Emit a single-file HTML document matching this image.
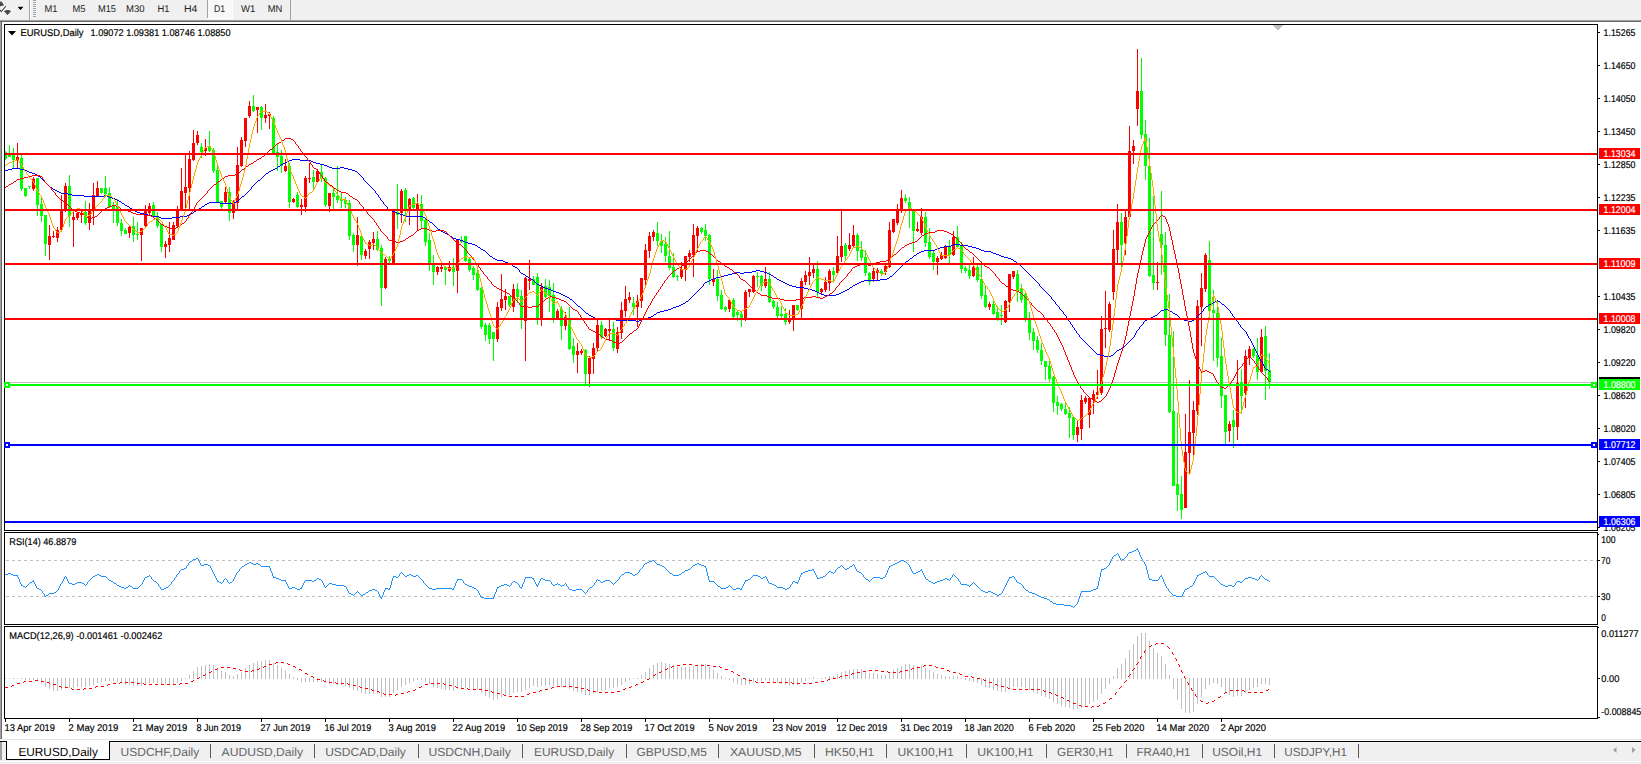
<!DOCTYPE html>
<html><head><meta charset="utf-8"><title>EURUSD,Daily</title>
<style>html,body{margin:0;padding:0;background:#fff;overflow:hidden}svg{display:block}text{font-family:"Liberation Sans",sans-serif;white-space:pre}</style>
</head><body>
<svg width="1641" height="764" viewBox="0 0 1641 764" shape-rendering="crispEdges" text-rendering="geometricPrecision">
<rect x="0" y="0" width="1641" height="764" fill="#fff"/>
<rect x="0" y="0" width="1641" height="20" fill="#f0f0f0"/>
<rect x="0" y="20" width="1641" height="1" fill="#a0a0a0"/>
<rect x="0" y="21" width="1641" height="1" fill="#696969"/>
<rect x="0" y="22" width="1" height="717" fill="#a0a0a0"/>
<rect x="1" y="22" width="1" height="717" fill="#696969"/>
<g shape-rendering="geometricPrecision"><path d="M0,1.6 L1.6,1.6 L4.2,5.2 L0,6.6 Z M3.8,10.9 L6.4,10 L8.6,10 L11.2,11 L7.5,15.2 Z" fill="#4a4a4a" stroke="#fff" stroke-width="1.6" paint-order="stroke"/><path d="M5.8,6.2 L1.3,11.6 L0,9.9" fill="none" stroke="#fff" stroke-width="2.6"/><path d="M5.8,6.2 L1.3,11.6 L0,9.9" fill="none" stroke="#4a4a4a" stroke-width="1.2"/><path d="M17.5,6.8 L23.5,6.8 L20.5,10.3 Z" fill="#000" stroke="#fff" stroke-width="1.4" paint-order="stroke"/></g>
<rect x="29" y="0" width="1" height="20" fill="#a0a0a0"/>
<rect x="30" y="0" width="1" height="20" fill="#fff"/>
<rect x="33" y="0" width="3" height="1" fill="#a0a0a0"/>
<rect x="33" y="1" width="3" height="1" fill="#f8f8f8"/>
<rect x="33" y="2" width="3" height="1" fill="#a0a0a0"/>
<rect x="33" y="3" width="3" height="1" fill="#f8f8f8"/>
<rect x="33" y="4" width="3" height="1" fill="#a0a0a0"/>
<rect x="33" y="5" width="3" height="1" fill="#f8f8f8"/>
<rect x="33" y="6" width="3" height="1" fill="#a0a0a0"/>
<rect x="33" y="7" width="3" height="1" fill="#f8f8f8"/>
<rect x="33" y="8" width="3" height="1" fill="#a0a0a0"/>
<rect x="33" y="9" width="3" height="1" fill="#f8f8f8"/>
<rect x="33" y="10" width="3" height="1" fill="#a0a0a0"/>
<rect x="33" y="11" width="3" height="1" fill="#f8f8f8"/>
<rect x="33" y="12" width="3" height="1" fill="#a0a0a0"/>
<rect x="33" y="13" width="3" height="1" fill="#f8f8f8"/>
<rect x="33" y="14" width="3" height="1" fill="#a0a0a0"/>
<rect x="33" y="15" width="3" height="1" fill="#f8f8f8"/>
<rect x="33" y="16" width="3" height="1" fill="#a0a0a0"/>
<rect x="33" y="17" width="3" height="1" fill="#f8f8f8"/>
<rect x="207" y="0" width="1" height="18" fill="#a0a0a0"/>
<rect x="290" y="0" width="1" height="20" fill="#a0a0a0"/>
<rect x="208" y="0" width="24" height="18" fill="#f8f8f8"/>
<rect x="207" y="18" width="26" height="1" fill="#fff"/>
<rect x="232" y="0" width="1" height="19" fill="#fff"/>
<text x="44.5" y="12" font-size="9.8" fill="#222" textLength="13" lengthAdjust="spacingAndGlyphs">M1</text>
<text x="72.5" y="12" font-size="9.8" fill="#222" textLength="13" lengthAdjust="spacingAndGlyphs">M5</text>
<text x="98" y="12" font-size="9.8" fill="#222" textLength="18" lengthAdjust="spacingAndGlyphs">M15</text>
<text x="126" y="12" font-size="9.8" fill="#222" textLength="18.5" lengthAdjust="spacingAndGlyphs">M30</text>
<text x="157.5" y="12" font-size="9.8" fill="#222" textLength="12" lengthAdjust="spacingAndGlyphs">H1</text>
<text x="184" y="12" font-size="9.8" fill="#222" textLength="13.5" lengthAdjust="spacingAndGlyphs">H4</text>
<text x="213.9" y="12" font-size="9.8" fill="#222" textLength="11.2" lengthAdjust="spacingAndGlyphs">D1</text>
<text x="240.9" y="12" font-size="9.8" fill="#222" textLength="14.3" lengthAdjust="spacingAndGlyphs">W1</text>
<text x="267.8" y="12" font-size="9.8" fill="#222" textLength="14.6" lengthAdjust="spacingAndGlyphs">MN</text>
<rect x="5" y="382" width="1592" height="1" fill="#c0c0c0"/>
<polygon points="1272,25 1283,25 1277.5,30.5" fill="#c0c0c0"/>
<rect x="5" y="151" width="1" height="9" fill="#00ff00"/>
<rect x="5" y="152" width="2" height="7" fill="#00ff00"/>
<rect x="9" y="145" width="1" height="12" fill="#00ff00"/>
<rect x="8" y="154" width="3" height="3" fill="#00ff00"/>
<rect x="13" y="148" width="1" height="20" fill="#00ff00"/>
<rect x="12" y="154" width="3" height="6" fill="#00ff00"/>
<rect x="17" y="143" width="1" height="26" fill="#ff0000"/>
<rect x="16" y="157" width="3" height="4" fill="#ff0000"/>
<rect x="21" y="155" width="1" height="36" fill="#00ff00"/>
<rect x="20" y="158" width="3" height="31" fill="#00ff00"/>
<rect x="25" y="188" width="1" height="9" fill="#00ff00"/>
<rect x="24" y="188" width="3" height="8" fill="#00ff00"/>
<rect x="29" y="186" width="1" height="3" fill="#00ff00"/>
<rect x="28" y="186" width="3" height="1" fill="#00ff00"/>
<rect x="33" y="177" width="1" height="14" fill="#ff0000"/>
<rect x="32" y="179" width="3" height="10" fill="#ff0000"/>
<rect x="37" y="178" width="1" height="38" fill="#00ff00"/>
<rect x="36" y="178" width="3" height="27" fill="#00ff00"/>
<rect x="41" y="198" width="1" height="24" fill="#00ff00"/>
<rect x="40" y="204" width="3" height="12" fill="#00ff00"/>
<rect x="45" y="215" width="1" height="41" fill="#00ff00"/>
<rect x="44" y="215" width="3" height="29" fill="#00ff00"/>
<rect x="49" y="225" width="1" height="35" fill="#ff0000"/>
<rect x="48" y="236" width="3" height="9" fill="#ff0000"/>
<rect x="53" y="231" width="1" height="7" fill="#ff0000"/>
<rect x="52" y="236" width="3" height="1" fill="#ff0000"/>
<rect x="57" y="227" width="1" height="15" fill="#ff0000"/>
<rect x="56" y="230" width="3" height="8" fill="#ff0000"/>
<rect x="61" y="195" width="1" height="36" fill="#ff0000"/>
<rect x="60" y="210" width="3" height="20" fill="#ff0000"/>
<rect x="65" y="183" width="1" height="29" fill="#ff0000"/>
<rect x="64" y="186" width="3" height="25" fill="#ff0000"/>
<rect x="69" y="175" width="1" height="52" fill="#00ff00"/>
<rect x="68" y="186" width="3" height="30" fill="#00ff00"/>
<rect x="73" y="211" width="1" height="36" fill="#ff0000"/>
<rect x="72" y="217" width="3" height="3" fill="#ff0000"/>
<rect x="77" y="212" width="1" height="8" fill="#ff0000"/>
<rect x="76" y="213" width="3" height="5" fill="#ff0000"/>
<rect x="81" y="211" width="1" height="12" fill="#ff0000"/>
<rect x="80" y="213" width="3" height="2" fill="#ff0000"/>
<rect x="85" y="201" width="1" height="24" fill="#00ff00"/>
<rect x="84" y="212" width="3" height="11" fill="#00ff00"/>
<rect x="89" y="203" width="1" height="27" fill="#ff0000"/>
<rect x="88" y="209" width="3" height="14" fill="#ff0000"/>
<rect x="93" y="183" width="1" height="42" fill="#ff0000"/>
<rect x="92" y="195" width="3" height="15" fill="#ff0000"/>
<rect x="97" y="181" width="1" height="16" fill="#ff0000"/>
<rect x="96" y="188" width="3" height="8" fill="#ff0000"/>
<rect x="101" y="188" width="1" height="6" fill="#00ff00"/>
<rect x="100" y="188" width="3" height="5" fill="#00ff00"/>
<rect x="105" y="176" width="1" height="21" fill="#00ff00"/>
<rect x="104" y="188" width="3" height="6" fill="#00ff00"/>
<rect x="109" y="187" width="1" height="21" fill="#00ff00"/>
<rect x="108" y="193" width="3" height="14" fill="#00ff00"/>
<rect x="113" y="202" width="1" height="21" fill="#00ff00"/>
<rect x="112" y="206" width="3" height="5" fill="#00ff00"/>
<rect x="117" y="199" width="1" height="27" fill="#00ff00"/>
<rect x="116" y="206" width="3" height="17" fill="#00ff00"/>
<rect x="121" y="219" width="1" height="17" fill="#00ff00"/>
<rect x="120" y="223" width="3" height="8" fill="#00ff00"/>
<rect x="125" y="228" width="1" height="6" fill="#00ff00"/>
<rect x="124" y="230" width="3" height="4" fill="#00ff00"/>
<rect x="129" y="225" width="1" height="13" fill="#ff0000"/>
<rect x="128" y="227" width="3" height="6" fill="#ff0000"/>
<rect x="133" y="217" width="1" height="25" fill="#00ff00"/>
<rect x="132" y="226" width="3" height="9" fill="#00ff00"/>
<rect x="137" y="222" width="1" height="18" fill="#00ff00"/>
<rect x="136" y="234" width="3" height="1" fill="#00ff00"/>
<rect x="141" y="228" width="1" height="33" fill="#ff0000"/>
<rect x="140" y="228" width="3" height="7" fill="#ff0000"/>
<rect x="145" y="205" width="1" height="22" fill="#ff0000"/>
<rect x="144" y="211" width="3" height="15" fill="#ff0000"/>
<rect x="149" y="203" width="1" height="12" fill="#ff0000"/>
<rect x="148" y="206" width="3" height="7" fill="#ff0000"/>
<rect x="153" y="202" width="1" height="16" fill="#00ff00"/>
<rect x="152" y="205" width="3" height="12" fill="#00ff00"/>
<rect x="157" y="212" width="1" height="16" fill="#00ff00"/>
<rect x="156" y="217" width="3" height="9" fill="#00ff00"/>
<rect x="161" y="224" width="1" height="28" fill="#00ff00"/>
<rect x="160" y="224" width="3" height="23" fill="#00ff00"/>
<rect x="165" y="241" width="1" height="17" fill="#ff0000"/>
<rect x="164" y="244" width="3" height="3" fill="#ff0000"/>
<rect x="169" y="222" width="1" height="30" fill="#ff0000"/>
<rect x="168" y="238" width="3" height="7" fill="#ff0000"/>
<rect x="173" y="222" width="1" height="18" fill="#ff0000"/>
<rect x="172" y="225" width="3" height="15" fill="#ff0000"/>
<rect x="177" y="206" width="1" height="22" fill="#ff0000"/>
<rect x="176" y="209" width="3" height="17" fill="#ff0000"/>
<rect x="181" y="168" width="1" height="43" fill="#ff0000"/>
<rect x="180" y="191" width="3" height="19" fill="#ff0000"/>
<rect x="185" y="155" width="1" height="56" fill="#ff0000"/>
<rect x="184" y="187" width="3" height="6" fill="#ff0000"/>
<rect x="189" y="151" width="1" height="60" fill="#ff0000"/>
<rect x="188" y="159" width="3" height="29" fill="#ff0000"/>
<rect x="193" y="130" width="1" height="31" fill="#ff0000"/>
<rect x="192" y="143" width="3" height="17" fill="#ff0000"/>
<rect x="197" y="131" width="1" height="14" fill="#ff0000"/>
<rect x="196" y="135" width="3" height="8" fill="#ff0000"/>
<rect x="201" y="143" width="1" height="15" fill="#00ff00"/>
<rect x="200" y="147" width="3" height="5" fill="#00ff00"/>
<rect x="205" y="139" width="1" height="17" fill="#ff0000"/>
<rect x="204" y="148" width="3" height="3" fill="#ff0000"/>
<rect x="209" y="131" width="1" height="21" fill="#00ff00"/>
<rect x="208" y="146" width="3" height="5" fill="#00ff00"/>
<rect x="213" y="148" width="1" height="25" fill="#00ff00"/>
<rect x="212" y="150" width="3" height="21" fill="#00ff00"/>
<rect x="217" y="166" width="1" height="37" fill="#00ff00"/>
<rect x="216" y="170" width="3" height="32" fill="#00ff00"/>
<rect x="221" y="201" width="1" height="8" fill="#00ff00"/>
<rect x="220" y="201" width="3" height="6" fill="#00ff00"/>
<rect x="225" y="187" width="1" height="16" fill="#ff0000"/>
<rect x="224" y="192" width="3" height="10" fill="#ff0000"/>
<rect x="229" y="187" width="1" height="34" fill="#00ff00"/>
<rect x="228" y="192" width="3" height="21" fill="#00ff00"/>
<rect x="233" y="200" width="1" height="19" fill="#ff0000"/>
<rect x="232" y="201" width="3" height="12" fill="#ff0000"/>
<rect x="237" y="147" width="1" height="62" fill="#ff0000"/>
<rect x="236" y="165" width="3" height="38" fill="#ff0000"/>
<rect x="241" y="137" width="1" height="30" fill="#ff0000"/>
<rect x="240" y="140" width="3" height="26" fill="#ff0000"/>
<rect x="245" y="118" width="1" height="29" fill="#ff0000"/>
<rect x="244" y="118" width="3" height="23" fill="#ff0000"/>
<rect x="249" y="101" width="1" height="17" fill="#ff0000"/>
<rect x="248" y="106" width="3" height="10" fill="#ff0000"/>
<rect x="253" y="95" width="1" height="17" fill="#00ff00"/>
<rect x="252" y="106" width="3" height="5" fill="#00ff00"/>
<rect x="257" y="107" width="1" height="26" fill="#ff0000"/>
<rect x="256" y="107" width="3" height="3" fill="#ff0000"/>
<rect x="261" y="106" width="1" height="24" fill="#00ff00"/>
<rect x="260" y="107" width="3" height="11" fill="#00ff00"/>
<rect x="265" y="104" width="1" height="19" fill="#ff0000"/>
<rect x="264" y="115" width="3" height="3" fill="#ff0000"/>
<rect x="269" y="112" width="1" height="17" fill="#ff0000"/>
<rect x="268" y="114" width="3" height="2" fill="#ff0000"/>
<rect x="273" y="116" width="1" height="39" fill="#00ff00"/>
<rect x="272" y="118" width="3" height="35" fill="#00ff00"/>
<rect x="277" y="143" width="1" height="28" fill="#00ff00"/>
<rect x="276" y="152" width="3" height="5" fill="#00ff00"/>
<rect x="281" y="150" width="1" height="23" fill="#00ff00"/>
<rect x="280" y="156" width="3" height="10" fill="#00ff00"/>
<rect x="285" y="159" width="1" height="13" fill="#ff0000"/>
<rect x="284" y="166" width="3" height="5" fill="#ff0000"/>
<rect x="289" y="163" width="1" height="45" fill="#00ff00"/>
<rect x="288" y="166" width="3" height="36" fill="#00ff00"/>
<rect x="293" y="198" width="1" height="5" fill="#ff0000"/>
<rect x="292" y="199" width="3" height="3" fill="#ff0000"/>
<rect x="297" y="192" width="1" height="16" fill="#00ff00"/>
<rect x="296" y="195" width="3" height="12" fill="#00ff00"/>
<rect x="301" y="199" width="1" height="16" fill="#ff0000"/>
<rect x="300" y="205" width="3" height="2" fill="#ff0000"/>
<rect x="305" y="176" width="1" height="36" fill="#ff0000"/>
<rect x="304" y="178" width="3" height="29" fill="#ff0000"/>
<rect x="309" y="163" width="1" height="20" fill="#ff0000"/>
<rect x="308" y="178" width="3" height="1" fill="#ff0000"/>
<rect x="313" y="170" width="1" height="20" fill="#00ff00"/>
<rect x="312" y="177" width="3" height="5" fill="#00ff00"/>
<rect x="317" y="169" width="1" height="14" fill="#ff0000"/>
<rect x="316" y="171" width="3" height="11" fill="#ff0000"/>
<rect x="321" y="165" width="1" height="17" fill="#00ff00"/>
<rect x="320" y="172" width="3" height="6" fill="#00ff00"/>
<rect x="325" y="177" width="1" height="30" fill="#00ff00"/>
<rect x="324" y="178" width="3" height="27" fill="#00ff00"/>
<rect x="329" y="193" width="1" height="19" fill="#ff0000"/>
<rect x="328" y="193" width="3" height="13" fill="#ff0000"/>
<rect x="333" y="189" width="1" height="20" fill="#00ff00"/>
<rect x="332" y="193" width="3" height="4" fill="#00ff00"/>
<rect x="337" y="166" width="1" height="37" fill="#00ff00"/>
<rect x="336" y="196" width="3" height="4" fill="#00ff00"/>
<rect x="341" y="192" width="1" height="16" fill="#00ff00"/>
<rect x="340" y="199" width="3" height="2" fill="#00ff00"/>
<rect x="345" y="197" width="1" height="11" fill="#00ff00"/>
<rect x="344" y="200" width="3" height="4" fill="#00ff00"/>
<rect x="349" y="200" width="1" height="40" fill="#00ff00"/>
<rect x="348" y="203" width="3" height="33" fill="#00ff00"/>
<rect x="353" y="233" width="1" height="19" fill="#00ff00"/>
<rect x="352" y="235" width="3" height="10" fill="#00ff00"/>
<rect x="357" y="217" width="1" height="49" fill="#ff0000"/>
<rect x="356" y="235" width="3" height="10" fill="#ff0000"/>
<rect x="361" y="235" width="1" height="25" fill="#00ff00"/>
<rect x="360" y="236" width="3" height="19" fill="#00ff00"/>
<rect x="365" y="249" width="1" height="10" fill="#ff0000"/>
<rect x="364" y="251" width="3" height="5" fill="#ff0000"/>
<rect x="369" y="240" width="1" height="19" fill="#ff0000"/>
<rect x="368" y="242" width="3" height="7" fill="#ff0000"/>
<rect x="373" y="232" width="1" height="18" fill="#ff0000"/>
<rect x="372" y="239" width="3" height="4" fill="#ff0000"/>
<rect x="377" y="231" width="1" height="20" fill="#00ff00"/>
<rect x="376" y="239" width="3" height="11" fill="#00ff00"/>
<rect x="381" y="245" width="1" height="61" fill="#00ff00"/>
<rect x="380" y="248" width="3" height="40" fill="#00ff00"/>
<rect x="385" y="257" width="1" height="32" fill="#ff0000"/>
<rect x="384" y="259" width="3" height="29" fill="#ff0000"/>
<rect x="389" y="256" width="1" height="7" fill="#00ff00"/>
<rect x="388" y="258" width="3" height="3" fill="#00ff00"/>
<rect x="393" y="212" width="1" height="51" fill="#ff0000"/>
<rect x="392" y="212" width="3" height="51" fill="#ff0000"/>
<rect x="397" y="184" width="1" height="45" fill="#00ff00"/>
<rect x="396" y="212" width="3" height="3" fill="#00ff00"/>
<rect x="401" y="189" width="1" height="34" fill="#ff0000"/>
<rect x="400" y="191" width="3" height="22" fill="#ff0000"/>
<rect x="405" y="188" width="1" height="34" fill="#00ff00"/>
<rect x="404" y="190" width="3" height="19" fill="#00ff00"/>
<rect x="409" y="198" width="1" height="27" fill="#ff0000"/>
<rect x="408" y="199" width="3" height="12" fill="#ff0000"/>
<rect x="413" y="197" width="1" height="12" fill="#00ff00"/>
<rect x="412" y="198" width="3" height="10" fill="#00ff00"/>
<rect x="417" y="194" width="1" height="37" fill="#ff0000"/>
<rect x="416" y="203" width="3" height="6" fill="#ff0000"/>
<rect x="421" y="195" width="1" height="33" fill="#00ff00"/>
<rect x="420" y="204" width="3" height="17" fill="#00ff00"/>
<rect x="425" y="218" width="1" height="28" fill="#00ff00"/>
<rect x="424" y="220" width="3" height="22" fill="#00ff00"/>
<rect x="429" y="233" width="1" height="38" fill="#00ff00"/>
<rect x="428" y="240" width="3" height="23" fill="#00ff00"/>
<rect x="433" y="255" width="1" height="30" fill="#00ff00"/>
<rect x="432" y="263" width="3" height="9" fill="#00ff00"/>
<rect x="437" y="266" width="1" height="9" fill="#ff0000"/>
<rect x="436" y="267" width="3" height="5" fill="#ff0000"/>
<rect x="441" y="265" width="1" height="7" fill="#ff0000"/>
<rect x="440" y="267" width="3" height="2" fill="#ff0000"/>
<rect x="445" y="266" width="1" height="19" fill="#00ff00"/>
<rect x="444" y="267" width="3" height="3" fill="#00ff00"/>
<rect x="449" y="261" width="1" height="11" fill="#ff0000"/>
<rect x="448" y="267" width="3" height="4" fill="#ff0000"/>
<rect x="453" y="258" width="1" height="28" fill="#00ff00"/>
<rect x="452" y="267" width="3" height="5" fill="#00ff00"/>
<rect x="457" y="239" width="1" height="54" fill="#ff0000"/>
<rect x="456" y="240" width="3" height="31" fill="#ff0000"/>
<rect x="461" y="236" width="1" height="7" fill="#00ff00"/>
<rect x="460" y="240" width="3" height="2" fill="#00ff00"/>
<rect x="465" y="236" width="1" height="26" fill="#00ff00"/>
<rect x="464" y="236" width="3" height="25" fill="#00ff00"/>
<rect x="469" y="258" width="1" height="14" fill="#00ff00"/>
<rect x="468" y="259" width="3" height="11" fill="#00ff00"/>
<rect x="473" y="266" width="1" height="14" fill="#00ff00"/>
<rect x="472" y="268" width="3" height="7" fill="#00ff00"/>
<rect x="477" y="266" width="1" height="25" fill="#00ff00"/>
<rect x="476" y="273" width="3" height="17" fill="#00ff00"/>
<rect x="481" y="287" width="1" height="42" fill="#00ff00"/>
<rect x="480" y="288" width="3" height="39" fill="#00ff00"/>
<rect x="485" y="323" width="1" height="18" fill="#00ff00"/>
<rect x="484" y="325" width="3" height="10" fill="#00ff00"/>
<rect x="489" y="323" width="1" height="21" fill="#00ff00"/>
<rect x="488" y="325" width="3" height="14" fill="#00ff00"/>
<rect x="493" y="332" width="1" height="29" fill="#00ff00"/>
<rect x="492" y="332" width="3" height="7" fill="#00ff00"/>
<rect x="497" y="302" width="1" height="40" fill="#ff0000"/>
<rect x="496" y="307" width="3" height="32" fill="#ff0000"/>
<rect x="501" y="274" width="1" height="37" fill="#ff0000"/>
<rect x="500" y="299" width="3" height="9" fill="#ff0000"/>
<rect x="505" y="289" width="1" height="21" fill="#ff0000"/>
<rect x="504" y="296" width="3" height="4" fill="#ff0000"/>
<rect x="509" y="296" width="1" height="11" fill="#00ff00"/>
<rect x="508" y="296" width="3" height="9" fill="#00ff00"/>
<rect x="513" y="284" width="1" height="28" fill="#ff0000"/>
<rect x="512" y="289" width="3" height="18" fill="#ff0000"/>
<rect x="517" y="283" width="1" height="20" fill="#00ff00"/>
<rect x="516" y="289" width="3" height="8" fill="#00ff00"/>
<rect x="521" y="290" width="1" height="39" fill="#00ff00"/>
<rect x="520" y="296" width="3" height="24" fill="#00ff00"/>
<rect x="525" y="277" width="1" height="84" fill="#ff0000"/>
<rect x="524" y="278" width="3" height="43" fill="#ff0000"/>
<rect x="529" y="260" width="1" height="30" fill="#ff0000"/>
<rect x="528" y="279" width="3" height="2" fill="#ff0000"/>
<rect x="533" y="276" width="1" height="9" fill="#00ff00"/>
<rect x="532" y="279" width="3" height="6" fill="#00ff00"/>
<rect x="537" y="273" width="1" height="52" fill="#00ff00"/>
<rect x="536" y="277" width="3" height="42" fill="#00ff00"/>
<rect x="541" y="283" width="1" height="43" fill="#ff0000"/>
<rect x="540" y="287" width="3" height="32" fill="#ff0000"/>
<rect x="545" y="279" width="1" height="19" fill="#00ff00"/>
<rect x="544" y="286" width="3" height="11" fill="#00ff00"/>
<rect x="549" y="280" width="1" height="32" fill="#00ff00"/>
<rect x="548" y="287" width="3" height="9" fill="#00ff00"/>
<rect x="553" y="283" width="1" height="40" fill="#00ff00"/>
<rect x="552" y="295" width="3" height="23" fill="#00ff00"/>
<rect x="557" y="309" width="1" height="10" fill="#ff0000"/>
<rect x="556" y="311" width="3" height="7" fill="#ff0000"/>
<rect x="561" y="306" width="1" height="34" fill="#00ff00"/>
<rect x="560" y="309" width="3" height="17" fill="#00ff00"/>
<rect x="565" y="312" width="1" height="18" fill="#ff0000"/>
<rect x="564" y="317" width="3" height="9" fill="#ff0000"/>
<rect x="569" y="307" width="1" height="43" fill="#00ff00"/>
<rect x="568" y="319" width="3" height="30" fill="#00ff00"/>
<rect x="573" y="338" width="1" height="25" fill="#00ff00"/>
<rect x="572" y="346" width="3" height="9" fill="#00ff00"/>
<rect x="577" y="343" width="1" height="30" fill="#ff0000"/>
<rect x="576" y="351" width="3" height="4" fill="#ff0000"/>
<rect x="581" y="349" width="1" height="6" fill="#ff0000"/>
<rect x="580" y="351" width="3" height="2" fill="#ff0000"/>
<rect x="585" y="349" width="1" height="35" fill="#00ff00"/>
<rect x="584" y="350" width="3" height="24" fill="#00ff00"/>
<rect x="589" y="356" width="1" height="31" fill="#ff0000"/>
<rect x="588" y="358" width="3" height="16" fill="#ff0000"/>
<rect x="593" y="343" width="1" height="31" fill="#ff0000"/>
<rect x="592" y="348" width="3" height="11" fill="#ff0000"/>
<rect x="597" y="319" width="1" height="32" fill="#ff0000"/>
<rect x="596" y="325" width="3" height="23" fill="#ff0000"/>
<rect x="601" y="321" width="1" height="18" fill="#00ff00"/>
<rect x="600" y="325" width="3" height="12" fill="#00ff00"/>
<rect x="605" y="328" width="1" height="9" fill="#ff0000"/>
<rect x="604" y="329" width="3" height="7" fill="#ff0000"/>
<rect x="609" y="319" width="1" height="22" fill="#ff0000"/>
<rect x="608" y="329" width="3" height="2" fill="#ff0000"/>
<rect x="613" y="322" width="1" height="29" fill="#00ff00"/>
<rect x="612" y="329" width="3" height="19" fill="#00ff00"/>
<rect x="617" y="327" width="1" height="26" fill="#ff0000"/>
<rect x="616" y="332" width="3" height="17" fill="#ff0000"/>
<rect x="621" y="302" width="1" height="37" fill="#ff0000"/>
<rect x="620" y="310" width="3" height="23" fill="#ff0000"/>
<rect x="625" y="286" width="1" height="31" fill="#ff0000"/>
<rect x="624" y="299" width="3" height="12" fill="#ff0000"/>
<rect x="629" y="292" width="1" height="11" fill="#ff0000"/>
<rect x="628" y="297" width="3" height="3" fill="#ff0000"/>
<rect x="633" y="297" width="1" height="18" fill="#00ff00"/>
<rect x="632" y="303" width="3" height="4" fill="#00ff00"/>
<rect x="637" y="295" width="1" height="32" fill="#ff0000"/>
<rect x="636" y="301" width="3" height="6" fill="#ff0000"/>
<rect x="641" y="278" width="1" height="30" fill="#ff0000"/>
<rect x="640" y="278" width="3" height="23" fill="#ff0000"/>
<rect x="645" y="244" width="1" height="42" fill="#ff0000"/>
<rect x="644" y="250" width="3" height="30" fill="#ff0000"/>
<rect x="649" y="232" width="1" height="26" fill="#ff0000"/>
<rect x="648" y="236" width="3" height="15" fill="#ff0000"/>
<rect x="653" y="230" width="1" height="11" fill="#ff0000"/>
<rect x="652" y="232" width="3" height="5" fill="#ff0000"/>
<rect x="657" y="222" width="1" height="24" fill="#00ff00"/>
<rect x="656" y="233" width="3" height="8" fill="#00ff00"/>
<rect x="661" y="234" width="1" height="19" fill="#00ff00"/>
<rect x="660" y="241" width="3" height="5" fill="#00ff00"/>
<rect x="665" y="237" width="1" height="25" fill="#00ff00"/>
<rect x="664" y="244" width="3" height="12" fill="#00ff00"/>
<rect x="669" y="231" width="1" height="39" fill="#00ff00"/>
<rect x="668" y="256" width="3" height="12" fill="#00ff00"/>
<rect x="673" y="253" width="1" height="25" fill="#00ff00"/>
<rect x="672" y="267" width="3" height="10" fill="#00ff00"/>
<rect x="677" y="275" width="1" height="6" fill="#00ff00"/>
<rect x="676" y="276" width="3" height="1" fill="#00ff00"/>
<rect x="681" y="262" width="1" height="17" fill="#ff0000"/>
<rect x="680" y="269" width="3" height="8" fill="#ff0000"/>
<rect x="685" y="256" width="1" height="25" fill="#ff0000"/>
<rect x="684" y="256" width="3" height="14" fill="#ff0000"/>
<rect x="689" y="250" width="1" height="12" fill="#ff0000"/>
<rect x="688" y="253" width="3" height="4" fill="#ff0000"/>
<rect x="693" y="224" width="1" height="53" fill="#ff0000"/>
<rect x="692" y="235" width="3" height="20" fill="#ff0000"/>
<rect x="697" y="226" width="1" height="25" fill="#ff0000"/>
<rect x="696" y="228" width="3" height="8" fill="#ff0000"/>
<rect x="701" y="227" width="1" height="7" fill="#00ff00"/>
<rect x="700" y="228" width="3" height="4" fill="#00ff00"/>
<rect x="705" y="224" width="1" height="17" fill="#00ff00"/>
<rect x="704" y="230" width="3" height="6" fill="#00ff00"/>
<rect x="709" y="234" width="1" height="51" fill="#00ff00"/>
<rect x="708" y="235" width="3" height="44" fill="#00ff00"/>
<rect x="713" y="269" width="1" height="17" fill="#ff0000"/>
<rect x="712" y="279" width="3" height="3" fill="#ff0000"/>
<rect x="717" y="270" width="1" height="31" fill="#00ff00"/>
<rect x="716" y="279" width="3" height="17" fill="#00ff00"/>
<rect x="721" y="290" width="1" height="20" fill="#00ff00"/>
<rect x="720" y="295" width="3" height="14" fill="#00ff00"/>
<rect x="725" y="306" width="1" height="6" fill="#00ff00"/>
<rect x="724" y="307" width="3" height="3" fill="#00ff00"/>
<rect x="729" y="298" width="1" height="14" fill="#ff0000"/>
<rect x="728" y="300" width="3" height="9" fill="#ff0000"/>
<rect x="733" y="298" width="1" height="21" fill="#00ff00"/>
<rect x="732" y="300" width="3" height="17" fill="#00ff00"/>
<rect x="737" y="310" width="1" height="11" fill="#00ff00"/>
<rect x="736" y="312" width="3" height="3" fill="#00ff00"/>
<rect x="741" y="311" width="1" height="16" fill="#00ff00"/>
<rect x="740" y="314" width="3" height="4" fill="#00ff00"/>
<rect x="745" y="290" width="1" height="31" fill="#ff0000"/>
<rect x="744" y="292" width="3" height="27" fill="#ff0000"/>
<rect x="749" y="289" width="1" height="8" fill="#ff0000"/>
<rect x="748" y="289" width="3" height="3" fill="#ff0000"/>
<rect x="753" y="275" width="1" height="18" fill="#ff0000"/>
<rect x="752" y="276" width="3" height="16" fill="#ff0000"/>
<rect x="757" y="272" width="1" height="15" fill="#00ff00"/>
<rect x="756" y="276" width="3" height="1" fill="#00ff00"/>
<rect x="761" y="275" width="1" height="16" fill="#00ff00"/>
<rect x="760" y="276" width="3" height="10" fill="#00ff00"/>
<rect x="765" y="267" width="1" height="21" fill="#ff0000"/>
<rect x="764" y="279" width="3" height="7" fill="#ff0000"/>
<rect x="769" y="272" width="1" height="31" fill="#00ff00"/>
<rect x="768" y="279" width="3" height="23" fill="#00ff00"/>
<rect x="773" y="300" width="1" height="9" fill="#00ff00"/>
<rect x="772" y="301" width="3" height="6" fill="#00ff00"/>
<rect x="777" y="302" width="1" height="16" fill="#00ff00"/>
<rect x="776" y="307" width="3" height="9" fill="#00ff00"/>
<rect x="781" y="306" width="1" height="12" fill="#00ff00"/>
<rect x="780" y="314" width="3" height="2" fill="#00ff00"/>
<rect x="785" y="308" width="1" height="17" fill="#00ff00"/>
<rect x="784" y="314" width="3" height="8" fill="#00ff00"/>
<rect x="789" y="310" width="1" height="14" fill="#ff0000"/>
<rect x="788" y="318" width="3" height="4" fill="#ff0000"/>
<rect x="793" y="305" width="1" height="26" fill="#ff0000"/>
<rect x="792" y="305" width="3" height="13" fill="#ff0000"/>
<rect x="797" y="305" width="1" height="6" fill="#00ff00"/>
<rect x="796" y="305" width="3" height="5" fill="#00ff00"/>
<rect x="801" y="278" width="1" height="40" fill="#ff0000"/>
<rect x="800" y="281" width="3" height="28" fill="#ff0000"/>
<rect x="805" y="271" width="1" height="14" fill="#ff0000"/>
<rect x="804" y="275" width="3" height="7" fill="#ff0000"/>
<rect x="809" y="257" width="1" height="28" fill="#ff0000"/>
<rect x="808" y="272" width="3" height="4" fill="#ff0000"/>
<rect x="813" y="265" width="1" height="13" fill="#ff0000"/>
<rect x="812" y="269" width="3" height="4" fill="#ff0000"/>
<rect x="817" y="261" width="1" height="37" fill="#00ff00"/>
<rect x="816" y="269" width="3" height="23" fill="#00ff00"/>
<rect x="821" y="288" width="1" height="7" fill="#ff0000"/>
<rect x="820" y="289" width="3" height="3" fill="#ff0000"/>
<rect x="825" y="277" width="1" height="15" fill="#ff0000"/>
<rect x="824" y="282" width="3" height="8" fill="#ff0000"/>
<rect x="829" y="269" width="1" height="22" fill="#ff0000"/>
<rect x="828" y="271" width="3" height="12" fill="#ff0000"/>
<rect x="833" y="267" width="1" height="15" fill="#00ff00"/>
<rect x="832" y="271" width="3" height="4" fill="#00ff00"/>
<rect x="837" y="236" width="1" height="39" fill="#ff0000"/>
<rect x="836" y="256" width="3" height="17" fill="#ff0000"/>
<rect x="841" y="211" width="1" height="51" fill="#ff0000"/>
<rect x="840" y="246" width="3" height="11" fill="#ff0000"/>
<rect x="845" y="243" width="1" height="17" fill="#00ff00"/>
<rect x="844" y="245" width="3" height="11" fill="#00ff00"/>
<rect x="849" y="233" width="1" height="18" fill="#ff0000"/>
<rect x="848" y="245" width="3" height="4" fill="#ff0000"/>
<rect x="853" y="225" width="1" height="22" fill="#ff0000"/>
<rect x="852" y="235" width="3" height="11" fill="#ff0000"/>
<rect x="857" y="233" width="1" height="28" fill="#00ff00"/>
<rect x="856" y="235" width="3" height="16" fill="#00ff00"/>
<rect x="861" y="241" width="1" height="20" fill="#00ff00"/>
<rect x="860" y="250" width="3" height="8" fill="#00ff00"/>
<rect x="865" y="250" width="1" height="26" fill="#00ff00"/>
<rect x="864" y="257" width="3" height="16" fill="#00ff00"/>
<rect x="869" y="272" width="1" height="13" fill="#00ff00"/>
<rect x="868" y="273" width="3" height="9" fill="#00ff00"/>
<rect x="873" y="268" width="1" height="14" fill="#ff0000"/>
<rect x="872" y="271" width="3" height="8" fill="#ff0000"/>
<rect x="877" y="268" width="1" height="13" fill="#ff0000"/>
<rect x="876" y="270" width="3" height="3" fill="#ff0000"/>
<rect x="881" y="269" width="1" height="7" fill="#00ff00"/>
<rect x="880" y="271" width="3" height="3" fill="#00ff00"/>
<rect x="885" y="265" width="1" height="10" fill="#ff0000"/>
<rect x="884" y="266" width="3" height="6" fill="#ff0000"/>
<rect x="889" y="222" width="1" height="46" fill="#ff0000"/>
<rect x="888" y="230" width="3" height="37" fill="#ff0000"/>
<rect x="893" y="219" width="1" height="14" fill="#ff0000"/>
<rect x="892" y="219" width="3" height="13" fill="#ff0000"/>
<rect x="897" y="204" width="1" height="21" fill="#ff0000"/>
<rect x="896" y="210" width="3" height="13" fill="#ff0000"/>
<rect x="901" y="190" width="1" height="23" fill="#ff0000"/>
<rect x="900" y="198" width="3" height="13" fill="#ff0000"/>
<rect x="905" y="194" width="1" height="9" fill="#00ff00"/>
<rect x="904" y="198" width="3" height="3" fill="#00ff00"/>
<rect x="909" y="197" width="1" height="31" fill="#00ff00"/>
<rect x="908" y="202" width="3" height="8" fill="#00ff00"/>
<rect x="913" y="209" width="1" height="43" fill="#00ff00"/>
<rect x="912" y="210" width="3" height="21" fill="#00ff00"/>
<rect x="917" y="222" width="1" height="10" fill="#ff0000"/>
<rect x="916" y="229" width="3" height="2" fill="#ff0000"/>
<rect x="921" y="208" width="1" height="27" fill="#ff0000"/>
<rect x="920" y="217" width="3" height="16" fill="#ff0000"/>
<rect x="925" y="212" width="1" height="35" fill="#00ff00"/>
<rect x="924" y="217" width="3" height="26" fill="#00ff00"/>
<rect x="929" y="228" width="1" height="31" fill="#00ff00"/>
<rect x="928" y="242" width="3" height="15" fill="#00ff00"/>
<rect x="933" y="251" width="1" height="19" fill="#00ff00"/>
<rect x="932" y="253" width="3" height="9" fill="#00ff00"/>
<rect x="937" y="256" width="1" height="19" fill="#ff0000"/>
<rect x="936" y="258" width="3" height="4" fill="#ff0000"/>
<rect x="941" y="252" width="1" height="8" fill="#ff0000"/>
<rect x="940" y="255" width="3" height="4" fill="#ff0000"/>
<rect x="945" y="245" width="1" height="14" fill="#ff0000"/>
<rect x="944" y="247" width="3" height="11" fill="#ff0000"/>
<rect x="949" y="240" width="1" height="23" fill="#00ff00"/>
<rect x="948" y="247" width="3" height="8" fill="#00ff00"/>
<rect x="953" y="231" width="1" height="25" fill="#ff0000"/>
<rect x="952" y="237" width="3" height="18" fill="#ff0000"/>
<rect x="957" y="226" width="1" height="22" fill="#00ff00"/>
<rect x="956" y="237" width="3" height="10" fill="#00ff00"/>
<rect x="961" y="242" width="1" height="31" fill="#00ff00"/>
<rect x="960" y="246" width="3" height="23" fill="#00ff00"/>
<rect x="965" y="266" width="1" height="7" fill="#00ff00"/>
<rect x="964" y="268" width="3" height="3" fill="#00ff00"/>
<rect x="969" y="265" width="1" height="14" fill="#00ff00"/>
<rect x="968" y="270" width="3" height="6" fill="#00ff00"/>
<rect x="973" y="257" width="1" height="20" fill="#ff0000"/>
<rect x="972" y="267" width="3" height="9" fill="#ff0000"/>
<rect x="977" y="265" width="1" height="17" fill="#00ff00"/>
<rect x="976" y="267" width="3" height="13" fill="#00ff00"/>
<rect x="981" y="261" width="1" height="38" fill="#00ff00"/>
<rect x="980" y="279" width="3" height="17" fill="#00ff00"/>
<rect x="985" y="286" width="1" height="22" fill="#00ff00"/>
<rect x="984" y="295" width="3" height="12" fill="#00ff00"/>
<rect x="989" y="302" width="1" height="8" fill="#ff0000"/>
<rect x="988" y="304" width="3" height="3" fill="#ff0000"/>
<rect x="993" y="301" width="1" height="14" fill="#00ff00"/>
<rect x="992" y="304" width="3" height="10" fill="#00ff00"/>
<rect x="997" y="306" width="1" height="15" fill="#00ff00"/>
<rect x="996" y="312" width="3" height="8" fill="#00ff00"/>
<rect x="1001" y="305" width="1" height="20" fill="#00ff00"/>
<rect x="1000" y="315" width="3" height="1" fill="#00ff00"/>
<rect x="1005" y="300" width="1" height="23" fill="#ff0000"/>
<rect x="1004" y="301" width="3" height="21" fill="#ff0000"/>
<rect x="1009" y="274" width="1" height="38" fill="#ff0000"/>
<rect x="1008" y="274" width="3" height="28" fill="#ff0000"/>
<rect x="1013" y="271" width="1" height="8" fill="#ff0000"/>
<rect x="1012" y="271" width="3" height="6" fill="#ff0000"/>
<rect x="1017" y="270" width="1" height="32" fill="#00ff00"/>
<rect x="1016" y="274" width="3" height="18" fill="#00ff00"/>
<rect x="1021" y="284" width="1" height="19" fill="#00ff00"/>
<rect x="1020" y="288" width="3" height="12" fill="#00ff00"/>
<rect x="1025" y="293" width="1" height="29" fill="#00ff00"/>
<rect x="1024" y="294" width="3" height="25" fill="#00ff00"/>
<rect x="1029" y="312" width="1" height="28" fill="#00ff00"/>
<rect x="1028" y="318" width="3" height="15" fill="#00ff00"/>
<rect x="1033" y="328" width="1" height="22" fill="#00ff00"/>
<rect x="1032" y="332" width="3" height="9" fill="#00ff00"/>
<rect x="1037" y="336" width="1" height="17" fill="#00ff00"/>
<rect x="1036" y="340" width="3" height="10" fill="#00ff00"/>
<rect x="1041" y="343" width="1" height="22" fill="#00ff00"/>
<rect x="1040" y="350" width="3" height="11" fill="#00ff00"/>
<rect x="1045" y="361" width="1" height="19" fill="#00ff00"/>
<rect x="1044" y="361" width="3" height="6" fill="#00ff00"/>
<rect x="1049" y="360" width="1" height="22" fill="#00ff00"/>
<rect x="1048" y="366" width="3" height="13" fill="#00ff00"/>
<rect x="1053" y="376" width="1" height="36" fill="#00ff00"/>
<rect x="1052" y="377" width="3" height="26" fill="#00ff00"/>
<rect x="1057" y="396" width="1" height="19" fill="#00ff00"/>
<rect x="1056" y="402" width="3" height="4" fill="#00ff00"/>
<rect x="1061" y="403" width="1" height="8" fill="#00ff00"/>
<rect x="1060" y="404" width="3" height="5" fill="#00ff00"/>
<rect x="1065" y="402" width="1" height="13" fill="#00ff00"/>
<rect x="1064" y="409" width="3" height="5" fill="#00ff00"/>
<rect x="1069" y="407" width="1" height="31" fill="#00ff00"/>
<rect x="1068" y="413" width="3" height="5" fill="#00ff00"/>
<rect x="1073" y="416" width="1" height="24" fill="#00ff00"/>
<rect x="1072" y="417" width="3" height="18" fill="#00ff00"/>
<rect x="1077" y="420" width="1" height="22" fill="#ff0000"/>
<rect x="1076" y="427" width="3" height="8" fill="#ff0000"/>
<rect x="1081" y="395" width="1" height="45" fill="#ff0000"/>
<rect x="1080" y="400" width="3" height="29" fill="#ff0000"/>
<rect x="1085" y="396" width="1" height="8" fill="#ff0000"/>
<rect x="1084" y="398" width="3" height="4" fill="#ff0000"/>
<rect x="1089" y="397" width="1" height="31" fill="#ff0000"/>
<rect x="1088" y="398" width="3" height="17" fill="#ff0000"/>
<rect x="1093" y="390" width="1" height="24" fill="#ff0000"/>
<rect x="1092" y="394" width="3" height="6" fill="#ff0000"/>
<rect x="1097" y="370" width="1" height="29" fill="#ff0000"/>
<rect x="1096" y="392" width="3" height="3" fill="#ff0000"/>
<rect x="1101" y="316" width="1" height="79" fill="#ff0000"/>
<rect x="1100" y="329" width="3" height="64" fill="#ff0000"/>
<rect x="1105" y="291" width="1" height="57" fill="#ff0000"/>
<rect x="1104" y="328" width="3" height="1" fill="#ff0000"/>
<rect x="1109" y="302" width="1" height="30" fill="#ff0000"/>
<rect x="1108" y="304" width="3" height="26" fill="#ff0000"/>
<rect x="1113" y="230" width="1" height="70" fill="#ff0000"/>
<rect x="1112" y="249" width="3" height="43" fill="#ff0000"/>
<rect x="1117" y="204" width="1" height="59" fill="#ff0000"/>
<rect x="1116" y="222" width="3" height="28" fill="#ff0000"/>
<rect x="1121" y="213" width="1" height="54" fill="#00ff00"/>
<rect x="1120" y="222" width="3" height="23" fill="#00ff00"/>
<rect x="1125" y="211" width="1" height="44" fill="#ff0000"/>
<rect x="1124" y="217" width="3" height="26" fill="#ff0000"/>
<rect x="1129" y="126" width="1" height="92" fill="#ff0000"/>
<rect x="1128" y="151" width="3" height="66" fill="#ff0000"/>
<rect x="1133" y="140" width="1" height="24" fill="#ff0000"/>
<rect x="1132" y="146" width="3" height="5" fill="#ff0000"/>
<rect x="1137" y="49" width="1" height="77" fill="#ff0000"/>
<rect x="1136" y="91" width="3" height="18" fill="#ff0000"/>
<rect x="1141" y="58" width="1" height="81" fill="#00ff00"/>
<rect x="1140" y="91" width="3" height="44" fill="#00ff00"/>
<rect x="1145" y="120" width="1" height="60" fill="#00ff00"/>
<rect x="1144" y="134" width="3" height="32" fill="#00ff00"/>
<rect x="1149" y="138" width="1" height="139" fill="#00ff00"/>
<rect x="1148" y="166" width="3" height="110" fill="#00ff00"/>
<rect x="1153" y="196" width="1" height="94" fill="#00ff00"/>
<rect x="1152" y="275" width="3" height="8" fill="#00ff00"/>
<rect x="1157" y="262" width="1" height="28" fill="#ff0000"/>
<rect x="1156" y="282" width="3" height="1" fill="#ff0000"/>
<rect x="1161" y="191" width="1" height="84" fill="#00ff00"/>
<rect x="1160" y="234" width="3" height="11" fill="#00ff00"/>
<rect x="1165" y="232" width="1" height="114" fill="#00ff00"/>
<rect x="1164" y="245" width="3" height="90" fill="#00ff00"/>
<rect x="1169" y="294" width="1" height="119" fill="#00ff00"/>
<rect x="1168" y="335" width="3" height="77" fill="#00ff00"/>
<rect x="1173" y="331" width="1" height="155" fill="#00ff00"/>
<rect x="1172" y="411" width="3" height="75" fill="#00ff00"/>
<rect x="1177" y="413" width="1" height="98" fill="#00ff00"/>
<rect x="1176" y="484" width="3" height="11" fill="#00ff00"/>
<rect x="1181" y="476" width="1" height="43" fill="#00ff00"/>
<rect x="1180" y="494" width="3" height="16" fill="#00ff00"/>
<rect x="1185" y="414" width="1" height="94" fill="#ff0000"/>
<rect x="1184" y="452" width="3" height="56" fill="#ff0000"/>
<rect x="1189" y="380" width="1" height="95" fill="#ff0000"/>
<rect x="1188" y="432" width="3" height="21" fill="#ff0000"/>
<rect x="1193" y="401" width="1" height="54" fill="#ff0000"/>
<rect x="1192" y="410" width="3" height="23" fill="#ff0000"/>
<rect x="1197" y="300" width="1" height="115" fill="#ff0000"/>
<rect x="1196" y="306" width="3" height="105" fill="#ff0000"/>
<rect x="1201" y="273" width="1" height="73" fill="#ff0000"/>
<rect x="1200" y="288" width="3" height="19" fill="#ff0000"/>
<rect x="1205" y="253" width="1" height="39" fill="#ff0000"/>
<rect x="1204" y="255" width="3" height="34" fill="#ff0000"/>
<rect x="1209" y="241" width="1" height="77" fill="#00ff00"/>
<rect x="1208" y="260" width="3" height="51" fill="#00ff00"/>
<rect x="1213" y="290" width="1" height="71" fill="#00ff00"/>
<rect x="1212" y="310" width="3" height="3" fill="#00ff00"/>
<rect x="1217" y="301" width="1" height="66" fill="#00ff00"/>
<rect x="1216" y="313" width="3" height="45" fill="#00ff00"/>
<rect x="1221" y="338" width="1" height="70" fill="#00ff00"/>
<rect x="1220" y="356" width="3" height="40" fill="#00ff00"/>
<rect x="1225" y="395" width="1" height="49" fill="#00ff00"/>
<rect x="1224" y="395" width="3" height="37" fill="#00ff00"/>
<rect x="1229" y="421" width="1" height="21" fill="#ff0000"/>
<rect x="1228" y="424" width="3" height="7" fill="#ff0000"/>
<rect x="1233" y="410" width="1" height="38" fill="#00ff00"/>
<rect x="1232" y="420" width="3" height="7" fill="#00ff00"/>
<rect x="1237" y="360" width="1" height="80" fill="#ff0000"/>
<rect x="1236" y="383" width="3" height="44" fill="#ff0000"/>
<rect x="1241" y="369" width="1" height="45" fill="#00ff00"/>
<rect x="1240" y="382" width="3" height="14" fill="#00ff00"/>
<rect x="1245" y="350" width="1" height="58" fill="#ff0000"/>
<rect x="1244" y="356" width="3" height="37" fill="#ff0000"/>
<rect x="1249" y="346" width="1" height="19" fill="#ff0000"/>
<rect x="1248" y="349" width="3" height="9" fill="#ff0000"/>
<rect x="1253" y="348" width="1" height="10" fill="#00ff00"/>
<rect x="1252" y="349" width="3" height="7" fill="#00ff00"/>
<rect x="1257" y="338" width="1" height="42" fill="#00ff00"/>
<rect x="1256" y="355" width="3" height="17" fill="#00ff00"/>
<rect x="1261" y="329" width="1" height="44" fill="#ff0000"/>
<rect x="1260" y="337" width="3" height="35" fill="#ff0000"/>
<rect x="1265" y="326" width="1" height="74" fill="#00ff00"/>
<rect x="1264" y="336" width="3" height="35" fill="#00ff00"/>
<rect x="1269" y="353" width="1" height="36" fill="#00ff00"/>
<rect x="1268" y="370" width="3" height="12" fill="#00ff00"/>
<path fill="none" stroke="#0000ff" stroke-width="1" d="M251.5 187v2M363.5 178v2M375.5 191v2M378.5 195v2M380.5 198v2M383.5 202v2M387.5 207v2M519.5 270v2M703.5 284v2M1039.5 284v2M1051.5 297v2M1055.5 302v2M1059.5 307v2M1063.5 312v2M1066.5 316v2M1068.5 319v2M1070.5 322v2M1072.5 325v2M1074.5 328v2M1076.5 331v2M1079.5 335v2M1134.5 335v2M1135.5 333v2M1136.5 331v2M1139.5 327v2M1143.5 322v2M1203.5 309v2M1230.5 311v2M1232.5 314v2M1235.5 318v2M1238.5 322v2M1240.5 325v2M1246.5 332v2M1247.5 334v2M1248.5 336v2M1250.5 339v2M1251.5 341v2M1252.5 343v2M1253.5 345v2M1254.5 347v2M1255.5 349v2M1256.5 351v2M1257.5 353v2M1258.5 355v2M1259.5 357v2M1260.5 359v2M1262.5 362v2M1263.5 364v2M1264.5 366v2M292 159.5h8M289 160.5h3M300 160.5h11M287 161.5h2M311 161.5h2M285 162.5h2M313 162.5h3M283 163.5h2M316 163.5h4M281 164.5h2M320 164.5h4M280 165.5h1M324 165.5h3M278 166.5h2M327 166.5h2M277 167.5h1M329 167.5h3M340 167.5h4M12 168.5h8M275 168.5h2M332 168.5h8M344 168.5h4M8 169.5h4M20 169.5h4M273 169.5h2M348 169.5h4M5 170.5h3M24 170.5h3M271 170.5h2M352 170.5h3M27 171.5h2M269 171.5h2M355 171.5h2M29 172.5h3M268 172.5h1M357 172.5h1M32 173.5h3M266 173.5h2M358 173.5h1M35 174.5h2M265 174.5h1M359 174.5h1M37 175.5h1M264 175.5h1M360 175.5h1M38 176.5h2M263 176.5h1M361 176.5h1M40 177.5h1M262 177.5h1M362 177.5h1M41 178.5h1M261 178.5h1M42 179.5h1M260 179.5h1M43 180.5h1M258 180.5h2M364 180.5h1M44 181.5h1M257 181.5h1M365 181.5h1M45 182.5h1M256 182.5h1M366 182.5h1M46 183.5h1M255 183.5h1M367 183.5h1M47 184.5h1M254 184.5h1M368 184.5h1M48 185.5h1M253 185.5h1M369 185.5h1M49 186.5h1M252 186.5h1M370 186.5h1M50 187.5h2M371 187.5h1M52 188.5h1M372 188.5h1M53 189.5h2M250 189.5h1M373 189.5h1M55 190.5h2M249 190.5h1M374 190.5h1M57 191.5h2M248 191.5h1M59 192.5h2M247 192.5h1M61 193.5h7M246 193.5h1M376 193.5h1M68 194.5h4M245 194.5h1M377 194.5h1M72 195.5h12M104 195.5h3M244 195.5h1M84 196.5h20M107 196.5h2M242 196.5h2M109 197.5h3M241 197.5h1M379 197.5h1M112 198.5h3M240 198.5h1M115 199.5h2M239 199.5h1M117 200.5h2M238 200.5h1M381 200.5h1M119 201.5h2M236 201.5h2M382 201.5h1M121 202.5h1M209 202.5h11M232 202.5h4M122 203.5h2M207 203.5h2M220 203.5h12M124 204.5h1M205 204.5h2M384 204.5h1M125 205.5h2M204 205.5h1M385 205.5h1M127 206.5h2M202 206.5h2M386 206.5h1M129 207.5h1M201 207.5h1M130 208.5h2M199 208.5h2M132 209.5h1M197 209.5h2M388 209.5h1M133 210.5h2M196 210.5h1M389 210.5h3M135 211.5h2M194 211.5h2M392 211.5h3M137 212.5h3M193 212.5h1M395 212.5h2M140 213.5h4M191 213.5h2M397 213.5h3M144 214.5h4M189 214.5h2M400 214.5h3M148 215.5h4M187 215.5h2M403 215.5h2M152 216.5h7M180 216.5h7M405 216.5h18M159 217.5h2M172 217.5h8M423 217.5h2M161 218.5h11M425 218.5h1M426 219.5h2M428 220.5h1M429 221.5h1M430 222.5h2M432 223.5h1M433 224.5h1M434 225.5h1M435 226.5h1M436 227.5h1M437 228.5h1M438 229.5h2M440 230.5h1M441 231.5h2M443 232.5h2M445 233.5h2M447 234.5h2M449 235.5h1M450 236.5h2M452 237.5h1M453 238.5h3M456 239.5h4M460 240.5h3M463 241.5h2M465 242.5h3M468 243.5h4M472 244.5h3M953 244.5h7M475 245.5h2M951 245.5h2M960 245.5h8M477 246.5h1M944 246.5h7M968 246.5h4M478 247.5h2M940 247.5h4M972 247.5h4M480 248.5h1M937 248.5h3M976 248.5h3M481 249.5h2M935 249.5h2M979 249.5h2M483 250.5h2M924 250.5h11M981 250.5h3M485 251.5h1M921 251.5h3M984 251.5h7M486 252.5h1M919 252.5h2M991 252.5h2M487 253.5h1M917 253.5h2M993 253.5h3M488 254.5h1M916 254.5h1M996 254.5h3M489 255.5h1M914 255.5h2M999 255.5h2M490 256.5h2M913 256.5h1M1001 256.5h3M492 257.5h1M912 257.5h1M1004 257.5h4M493 258.5h2M910 258.5h2M1008 258.5h3M495 259.5h2M909 259.5h1M1011 259.5h2M497 260.5h6M908 260.5h1M1013 260.5h1M503 261.5h2M906 261.5h2M1014 261.5h2M505 262.5h3M905 262.5h1M1016 262.5h1M508 263.5h2M904 263.5h1M1017 263.5h1M510 264.5h2M903 264.5h1M1018 264.5h2M512 265.5h1M902 265.5h1M1020 265.5h1M513 266.5h2M901 266.5h1M1021 266.5h1M515 267.5h2M900 267.5h1M1022 267.5h1M517 268.5h1M899 268.5h1M1023 268.5h1M518 269.5h1M898 269.5h1M1024 269.5h1M756 270.5h4M897 270.5h1M1025 270.5h1M752 271.5h4M760 271.5h4M896 271.5h1M1026 271.5h1M520 272.5h1M736 272.5h4M744 272.5h8M764 272.5h3M895 272.5h1M1027 272.5h1M521 273.5h2M732 273.5h4M740 273.5h4M767 273.5h2M894 273.5h1M1028 273.5h1M523 274.5h2M728 274.5h4M769 274.5h2M893 274.5h1M1029 274.5h1M525 275.5h1M724 275.5h4M771 275.5h2M892 275.5h1M1030 275.5h1M526 276.5h2M720 276.5h4M773 276.5h1M890 276.5h2M1031 276.5h1M528 277.5h1M716 277.5h4M774 277.5h2M889 277.5h1M1032 277.5h1M529 278.5h2M713 278.5h3M776 278.5h1M887 278.5h2M1033 278.5h1M531 279.5h2M711 279.5h2M777 279.5h2M880 279.5h7M1034 279.5h1M533 280.5h1M709 280.5h2M779 280.5h2M864 280.5h16M1035 280.5h1M534 281.5h1M707 281.5h2M781 281.5h2M861 281.5h3M1036 281.5h1M535 282.5h1M705 282.5h2M783 282.5h2M859 282.5h2M1037 282.5h1M536 283.5h1M704 283.5h1M785 283.5h2M857 283.5h2M1038 283.5h1M537 284.5h2M787 284.5h2M855 284.5h2M539 285.5h2M789 285.5h3M853 285.5h2M541 286.5h2M702 286.5h1M792 286.5h4M852 286.5h1M1040 286.5h1M543 287.5h2M701 287.5h1M796 287.5h8M850 287.5h2M1041 287.5h1M545 288.5h3M700 288.5h1M804 288.5h4M849 288.5h1M1042 288.5h1M548 289.5h3M699 289.5h1M808 289.5h4M847 289.5h2M1043 289.5h1M551 290.5h2M698 290.5h1M812 290.5h3M845 290.5h2M1044 290.5h1M553 291.5h3M697 291.5h1M815 291.5h2M843 291.5h2M1045 291.5h1M556 292.5h3M696 292.5h1M817 292.5h2M841 292.5h2M1046 292.5h1M559 293.5h2M695 293.5h1M819 293.5h2M839 293.5h2M1047 293.5h1M561 294.5h2M694 294.5h1M821 294.5h3M836 294.5h3M1048 294.5h1M563 295.5h2M693 295.5h1M824 295.5h12M1049 295.5h1M565 296.5h2M692 296.5h1M1050 296.5h1M567 297.5h2M691 297.5h1M569 298.5h1M690 298.5h1M570 299.5h2M689 299.5h1M1052 299.5h1M572 300.5h1M688 300.5h1M1053 300.5h1M1217 300.5h1M573 301.5h1M686 301.5h2M1054 301.5h1M1215 301.5h2M1218 301.5h2M574 302.5h1M685 302.5h1M1213 302.5h2M1220 302.5h1M575 303.5h1M683 303.5h2M1211 303.5h2M1221 303.5h1M576 304.5h1M681 304.5h2M1056 304.5h1M1209 304.5h2M1222 304.5h2M577 305.5h1M679 305.5h2M1057 305.5h1M1208 305.5h1M1224 305.5h1M578 306.5h2M676 306.5h3M1058 306.5h1M1206 306.5h2M1225 306.5h1M580 307.5h1M673 307.5h3M1205 307.5h1M1226 307.5h1M581 308.5h1M671 308.5h2M1204 308.5h1M1227 308.5h1M582 309.5h1M668 309.5h3M1060 309.5h1M1164 309.5h4M1228 309.5h1M583 310.5h1M664 310.5h4M1061 310.5h1M1161 310.5h3M1168 310.5h2M1229 310.5h1M584 311.5h1M660 311.5h4M1062 311.5h1M1160 311.5h1M1170 311.5h2M1202 311.5h1M585 312.5h1M657 312.5h3M1159 312.5h1M1172 312.5h1M1201 312.5h1M586 313.5h2M656 313.5h1M1158 313.5h1M1173 313.5h2M1200 313.5h1M1231 313.5h1M588 314.5h1M654 314.5h2M1064 314.5h1M1157 314.5h1M1175 314.5h2M1199 314.5h1M589 315.5h2M653 315.5h1M1065 315.5h1M1155 315.5h2M1177 315.5h1M1198 315.5h1M591 316.5h2M651 316.5h2M1153 316.5h2M1178 316.5h1M1197 316.5h1M1233 316.5h1M593 317.5h2M648 317.5h3M1151 317.5h2M1179 317.5h1M1196 317.5h1M1234 317.5h1M595 318.5h2M608 318.5h4M644 318.5h4M1067 318.5h1M1149 318.5h2M1180 318.5h1M1195 318.5h1M597 319.5h11M612 319.5h4M641 319.5h3M1147 319.5h2M1181 319.5h3M1194 319.5h1M616 320.5h20M639 320.5h2M1145 320.5h2M1184 320.5h4M1192 320.5h2M1236 320.5h1M636 321.5h3M1069 321.5h1M1144 321.5h1M1188 321.5h4M1237 321.5h1M1071 324.5h1M1142 324.5h1M1239 324.5h1M1141 325.5h1M1140 326.5h1M1073 327.5h1M1241 327.5h1M1242 328.5h1M1138 329.5h1M1243 329.5h1M1075 330.5h1M1137 330.5h1M1244 330.5h1M1245 331.5h1M1077 333.5h1M1078 334.5h1M1080 337.5h1M1133 337.5h1M1081 338.5h1M1132 338.5h1M1249 338.5h1M1082 339.5h1M1131 339.5h1M1083 340.5h1M1130 340.5h1M1084 341.5h1M1129 341.5h1M1085 342.5h1M1128 342.5h1M1086 343.5h1M1127 343.5h1M1087 344.5h1M1126 344.5h1M1088 345.5h1M1125 345.5h1M1089 346.5h1M1124 346.5h1M1090 347.5h1M1122 347.5h2M1091 348.5h1M1121 348.5h1M1092 349.5h1M1119 349.5h2M1093 350.5h1M1117 350.5h2M1094 351.5h1M1116 351.5h1M1095 352.5h1M1115 352.5h1M1096 353.5h1M1114 353.5h1M1097 354.5h3M1113 354.5h1M1100 355.5h4M1111 355.5h2M1104 356.5h7M1261 361.5h1M1265 368.5h1M1266 369.5h2M1268 370.5h1M1269 371.5h1"/>
<path fill="none" stroke="#ff0000" stroke-width="1" d="M42.5 177v2M44.5 180v2M51.5 188v2M55.5 193v2M186.5 219v2M188.5 216v2M190.5 213v2M192.5 210v2M194.5 207v2M195.5 205v2M196.5 203v2M207.5 191v2M295.5 142v2M298.5 146v2M300.5 149v2M303.5 153v2M307.5 158v2M310.5 162v2M312.5 165v2M319.5 172v2M322.5 176v2M324.5 179v2M359.5 202v2M363.5 207v2M367.5 212v2M374.5 220v2M376.5 223v2M378.5 226v2M380.5 229v2M387.5 237v2M467.5 251v2M471.5 256v2M475.5 261v2M478.5 265v2M480.5 268v2M483.5 272v2M487.5 277v2M491.5 282v2M519.5 303v2M578.5 312v2M580.5 315v2M582.5 318v2M584.5 321v2M586.5 324v2M588.5 327v2M638.5 326v2M639.5 324v2M640.5 322v2M641.5 320v2M642.5 318v2M643.5 316v2M644.5 314v2M645.5 312v2M646.5 310v2M647.5 308v2M648.5 306v2M650.5 303v2M651.5 301v2M652.5 299v2M654.5 296v2M656.5 293v2M658.5 290v2M660.5 287v2M662.5 284v2M664.5 281v2M667.5 277v2M739.5 276v2M835.5 288v2M839.5 283v2M847.5 274v2M851.5 269v2M963.5 245v2M995.5 274v2M999.5 279v2M1031.5 303v2M1043.5 315v2M1047.5 320v2M1050.5 324v2M1052.5 327v2M1054.5 330v2M1056.5 333v2M1057.5 335v2M1058.5 337v2M1059.5 339v2M1060.5 341v2M1061.5 343v2M1062.5 345v2M1063.5 347v3M1064.5 350v2M1065.5 352v3M1066.5 355v2M1067.5 357v3M1068.5 360v2M1069.5 362v3M1070.5 365v2M1071.5 367v3M1072.5 370v2M1073.5 372v3M1074.5 375v2M1075.5 377v2M1076.5 379v2M1077.5 381v2M1078.5 383v2M1080.5 386v2M1083.5 390v2M1106.5 394v2M1107.5 392v2M1108.5 390v2M1109.5 388v2M1110.5 385v3M1111.5 383v2M1112.5 380v3M1113.5 377v3M1114.5 373v4M1115.5 370v3M1116.5 366v4M1117.5 363v3M1118.5 360v3M1119.5 357v3M1120.5 354v3M1121.5 351v3M1122.5 347v4M1123.5 344v3M1124.5 340v4M1125.5 336v4M1126.5 331v5M1127.5 326v5M1128.5 321v5M1129.5 316v5M1130.5 311v5M1131.5 306v5M1132.5 301v5M1133.5 296v5M1134.5 290v6M1135.5 284v6M1136.5 278v6M1137.5 273v5M1138.5 269v4M1139.5 264v5M1140.5 260v4M1141.5 255v5M1142.5 251v4M1143.5 247v4M1144.5 243v4M1145.5 239v4M1146.5 237v2M1147.5 235v2M1148.5 233v2M1149.5 231v2M1150.5 229v2M1151.5 227v2M1152.5 225v2M1159.5 217v2M1165.5 217v2M1166.5 219v3M1167.5 222v2M1168.5 224v3M1169.5 227v4M1170.5 231v5M1171.5 236v4M1172.5 240v5M1173.5 245v5M1174.5 250v4M1175.5 254v5M1176.5 259v4M1177.5 263v5M1178.5 268v5M1179.5 273v6M1180.5 279v5M1181.5 284v5M1182.5 289v6M1183.5 295v5M1184.5 300v6M1185.5 306v5M1186.5 311v5M1187.5 316v5M1188.5 321v5M1189.5 326v5M1190.5 331v6M1191.5 337v6M1192.5 343v6M1193.5 349v4M1194.5 353v3M1195.5 356v3M1196.5 359v3M1197.5 362v3M1198.5 365v2M1199.5 367v2M1200.5 369v2M1201.5 371v2M1213.5 374v2M1214.5 376v2M1215.5 378v2M1216.5 380v2M1219.5 384v2M1231.5 381v2M1233.5 378v2M1234.5 376v2M1235.5 374v2M1236.5 372v2M1237.5 370v2M1242.5 364v2M1244.5 361v2M1254.5 361v2M1256.5 364v2M1258.5 367v2M1260.5 370v2M1267.5 378v2M285 138.5h6M284 139.5h1M291 139.5h2M282 140.5h2M293 140.5h1M281 141.5h1M294 141.5h1M279 142.5h2M277 143.5h2M276 144.5h1M296 144.5h1M275 145.5h1M297 145.5h1M274 146.5h1M273 147.5h1M272 148.5h1M299 148.5h1M270 149.5h2M269 150.5h1M268 151.5h1M301 151.5h1M267 152.5h1M302 152.5h1M266 153.5h1M265 154.5h1M264 155.5h1M304 155.5h1M262 156.5h2M305 156.5h1M261 157.5h1M306 157.5h1M259 158.5h2M257 159.5h2M256 160.5h1M308 160.5h1M254 161.5h2M309 161.5h1M253 162.5h1M251 163.5h2M249 164.5h2M311 164.5h1M248 165.5h1M246 166.5h2M245 167.5h1M313 167.5h1M244 168.5h1M314 168.5h2M242 169.5h2M316 169.5h1M241 170.5h1M317 170.5h1M240 171.5h1M318 171.5h1M238 172.5h2M237 173.5h1M235 174.5h2M320 174.5h1M32 175.5h8M228 175.5h7M321 175.5h1M28 176.5h4M40 176.5h2M225 176.5h3M24 177.5h4M224 177.5h1M20 178.5h4M222 178.5h2M323 178.5h1M17 179.5h3M43 179.5h1M221 179.5h1M16 180.5h1M220 180.5h1M14 181.5h2M218 181.5h2M325 181.5h1M13 182.5h1M45 182.5h1M217 182.5h1M326 182.5h2M11 183.5h2M46 183.5h1M216 183.5h1M328 183.5h1M9 184.5h2M47 184.5h1M214 184.5h2M329 184.5h1M8 185.5h1M48 185.5h1M213 185.5h1M330 185.5h2M6 186.5h2M49 186.5h1M212 186.5h1M332 186.5h1M5 187.5h1M50 187.5h1M211 187.5h1M333 187.5h1M210 188.5h1M334 188.5h2M209 189.5h1M336 189.5h1M52 190.5h1M208 190.5h1M337 190.5h2M53 191.5h1M339 191.5h2M54 192.5h1M341 192.5h5M206 193.5h1M346 193.5h2M205 194.5h1M348 194.5h1M56 195.5h1M204 195.5h1M349 195.5h1M57 196.5h1M203 196.5h1M350 196.5h2M58 197.5h1M202 197.5h1M352 197.5h1M59 198.5h1M201 198.5h1M353 198.5h2M60 199.5h1M200 199.5h1M355 199.5h2M61 200.5h2M199 200.5h1M357 200.5h1M63 201.5h2M198 201.5h1M358 201.5h1M65 202.5h1M197 202.5h1M66 203.5h1M67 204.5h1M360 204.5h1M68 205.5h1M112 205.5h4M361 205.5h1M69 206.5h1M109 206.5h3M116 206.5h2M362 206.5h1M70 207.5h1M107 207.5h2M118 207.5h2M71 208.5h1M105 208.5h2M120 208.5h1M72 209.5h1M104 209.5h1M121 209.5h3M193 209.5h1M364 209.5h1M73 210.5h2M102 210.5h2M124 210.5h4M365 210.5h1M75 211.5h2M101 211.5h1M128 211.5h3M366 211.5h1M77 212.5h3M100 212.5h1M131 212.5h2M191 212.5h1M80 213.5h2M99 213.5h1M133 213.5h3M82 214.5h2M98 214.5h1M136 214.5h8M368 214.5h1M84 215.5h1M97 215.5h1M144 215.5h7M189 215.5h1M369 215.5h1M1161 215.5h2M85 216.5h2M95 216.5h2M151 216.5h2M370 216.5h1M1160 216.5h1M1163 216.5h2M87 217.5h2M92 217.5h3M153 217.5h1M371 217.5h1M89 218.5h3M154 218.5h2M187 218.5h1M372 218.5h1M156 219.5h1M373 219.5h1M1158 219.5h1M157 220.5h1M1157 220.5h1M158 221.5h1M185 221.5h1M1156 221.5h1M159 222.5h1M184 222.5h1M375 222.5h1M1155 222.5h1M160 223.5h1M182 223.5h2M1154 223.5h1M161 224.5h2M181 224.5h1M1153 224.5h1M163 225.5h2M180 225.5h1M377 225.5h1M165 226.5h2M178 226.5h2M167 227.5h2M176 227.5h2M169 228.5h7M379 228.5h1M421 228.5h6M419 229.5h2M427 229.5h2M417 230.5h2M429 230.5h3M436 230.5h8M937 230.5h7M381 231.5h1M416 231.5h1M432 231.5h4M444 231.5h2M935 231.5h2M944 231.5h3M382 232.5h1M415 232.5h1M446 232.5h1M928 232.5h7M947 232.5h2M383 233.5h1M414 233.5h1M447 233.5h1M925 233.5h3M949 233.5h2M384 234.5h1M413 234.5h1M448 234.5h1M924 234.5h1M951 234.5h2M385 235.5h1M411 235.5h2M449 235.5h1M922 235.5h2M953 235.5h1M386 236.5h1M409 236.5h2M450 236.5h1M921 236.5h1M954 236.5h1M408 237.5h1M451 237.5h1M920 237.5h1M955 237.5h1M406 238.5h2M452 238.5h1M919 238.5h1M956 238.5h1M388 239.5h1M405 239.5h1M453 239.5h1M918 239.5h1M957 239.5h1M389 240.5h3M403 240.5h2M454 240.5h1M917 240.5h1M958 240.5h1M392 241.5h4M400 241.5h3M455 241.5h1M915 241.5h2M959 241.5h1M396 242.5h4M456 242.5h1M912 242.5h3M960 242.5h1M457 243.5h2M909 243.5h3M961 243.5h1M459 244.5h2M907 244.5h2M962 244.5h1M461 245.5h1M905 245.5h2M462 246.5h1M904 246.5h1M463 247.5h1M902 247.5h2M964 247.5h1M464 248.5h1M901 248.5h1M965 248.5h1M465 249.5h1M900 249.5h1M966 249.5h2M466 250.5h1M700 250.5h6M899 250.5h1M968 250.5h1M697 251.5h3M706 251.5h2M898 251.5h1M969 251.5h1M696 252.5h1M708 252.5h1M897 252.5h1M970 252.5h2M468 253.5h1M695 253.5h1M709 253.5h1M896 253.5h1M972 253.5h1M469 254.5h1M694 254.5h1M710 254.5h2M894 254.5h2M973 254.5h1M470 255.5h1M693 255.5h1M712 255.5h1M893 255.5h1M974 255.5h1M692 256.5h1M713 256.5h1M892 256.5h1M975 256.5h1M691 257.5h1M714 257.5h1M890 257.5h2M976 257.5h1M472 258.5h1M690 258.5h1M715 258.5h1M889 258.5h1M977 258.5h1M473 259.5h1M689 259.5h1M716 259.5h1M888 259.5h1M978 259.5h1M474 260.5h1M688 260.5h1M717 260.5h1M886 260.5h2M979 260.5h1M687 261.5h1M718 261.5h2M880 261.5h6M980 261.5h1M686 262.5h1M720 262.5h1M876 262.5h4M981 262.5h1M476 263.5h1M685 263.5h1M721 263.5h1M873 263.5h3M982 263.5h1M477 264.5h1M684 264.5h1M722 264.5h2M860 264.5h8M871 264.5h2M983 264.5h1M682 265.5h2M724 265.5h1M857 265.5h3M868 265.5h3M984 265.5h1M681 266.5h1M725 266.5h2M855 266.5h2M985 266.5h2M479 267.5h1M679 267.5h2M727 267.5h2M853 267.5h2M987 267.5h2M677 268.5h2M729 268.5h1M852 268.5h1M989 268.5h1M676 269.5h1M730 269.5h2M990 269.5h1M481 270.5h1M674 270.5h2M732 270.5h1M991 270.5h1M482 271.5h1M673 271.5h1M733 271.5h1M850 271.5h1M992 271.5h1M672 272.5h1M734 272.5h2M849 272.5h1M993 272.5h1M671 273.5h1M736 273.5h1M848 273.5h1M994 273.5h1M484 274.5h1M670 274.5h1M737 274.5h1M485 275.5h1M669 275.5h1M738 275.5h1M486 276.5h1M668 276.5h1M846 276.5h1M996 276.5h1M845 277.5h1M997 277.5h1M740 278.5h1M844 278.5h1M998 278.5h1M488 279.5h1M666 279.5h1M741 279.5h2M843 279.5h1M489 280.5h1M665 280.5h1M743 280.5h2M842 280.5h1M490 281.5h1M745 281.5h1M841 281.5h1M1000 281.5h1M746 282.5h1M840 282.5h1M1001 282.5h1M663 283.5h1M747 283.5h1M1002 283.5h2M492 284.5h1M748 284.5h1M1004 284.5h1M493 285.5h1M749 285.5h1M838 285.5h1M1005 285.5h1M494 286.5h2M661 286.5h1M750 286.5h1M837 286.5h1M1006 286.5h2M496 287.5h1M751 287.5h1M836 287.5h1M1008 287.5h1M497 288.5h2M752 288.5h1M1009 288.5h2M499 289.5h2M659 289.5h1M753 289.5h1M1011 289.5h2M501 290.5h2M754 290.5h2M834 290.5h1M1013 290.5h3M503 291.5h2M756 291.5h1M833 291.5h1M1016 291.5h3M505 292.5h2M657 292.5h1M757 292.5h1M832 292.5h1M1019 292.5h2M507 293.5h2M758 293.5h2M830 293.5h2M1021 293.5h1M509 294.5h1M760 294.5h1M829 294.5h1M1022 294.5h1M510 295.5h1M655 295.5h1M761 295.5h6M827 295.5h2M1023 295.5h1M511 296.5h1M549 296.5h3M767 296.5h2M812 296.5h4M825 296.5h2M1024 296.5h1M512 297.5h1M548 297.5h1M552 297.5h4M769 297.5h3M804 297.5h8M816 297.5h4M823 297.5h2M1025 297.5h1M513 298.5h1M546 298.5h2M556 298.5h3M653 298.5h1M772 298.5h8M800 298.5h4M820 298.5h3M1026 298.5h1M514 299.5h2M545 299.5h1M559 299.5h2M780 299.5h4M796 299.5h4M1027 299.5h1M516 300.5h1M544 300.5h1M561 300.5h3M784 300.5h12M1028 300.5h1M517 301.5h1M542 301.5h2M564 301.5h2M1029 301.5h1M518 302.5h1M541 302.5h1M566 302.5h1M1030 302.5h1M540 303.5h1M567 303.5h1M539 304.5h1M568 304.5h1M520 305.5h1M538 305.5h1M569 305.5h1M649 305.5h1M1032 305.5h1M521 306.5h7M532 306.5h6M570 306.5h1M1033 306.5h1M528 307.5h4M571 307.5h1M1034 307.5h1M572 308.5h1M1035 308.5h1M573 309.5h2M1036 309.5h1M575 310.5h2M1037 310.5h1M577 311.5h1M1038 311.5h2M1040 312.5h1M1041 313.5h1M579 314.5h1M1042 314.5h1M581 317.5h1M1044 317.5h1M1045 318.5h1M1046 319.5h1M583 320.5h1M1048 322.5h1M585 323.5h1M1049 323.5h1M587 326.5h1M1051 326.5h1M637 328.5h1M589 329.5h2M636 329.5h1M1053 329.5h1M591 330.5h2M634 330.5h2M593 331.5h2M633 331.5h1M595 332.5h2M632 332.5h1M1055 332.5h1M597 333.5h1M630 333.5h2M598 334.5h2M629 334.5h1M600 335.5h1M628 335.5h1M601 336.5h1M627 336.5h1M602 337.5h2M626 337.5h1M604 338.5h1M625 338.5h1M605 339.5h5M624 339.5h1M610 340.5h2M623 340.5h1M612 341.5h1M622 341.5h1M613 342.5h3M620 342.5h2M616 343.5h4M1249 356.5h1M1248 357.5h1M1250 357.5h1M1247 358.5h1M1251 358.5h1M1246 359.5h1M1252 359.5h1M1245 360.5h1M1253 360.5h1M1243 363.5h1M1255 363.5h1M1241 366.5h1M1257 366.5h1M1240 367.5h1M1239 368.5h1M1238 369.5h1M1259 369.5h1M1205 370.5h2M1203 371.5h2M1207 371.5h2M1202 372.5h1M1209 372.5h2M1261 372.5h1M1211 373.5h2M1262 373.5h1M1263 374.5h1M1264 375.5h1M1265 376.5h1M1266 377.5h1M1232 380.5h1M1268 380.5h1M1269 381.5h1M1217 382.5h1M1218 383.5h1M1230 383.5h1M1229 384.5h1M1079 385.5h1M1228 385.5h1M1220 386.5h1M1227 386.5h1M1221 387.5h3M1226 387.5h1M1081 388.5h1M1224 388.5h2M1082 389.5h1M1084 392.5h1M1085 393.5h1M1086 394.5h1M1087 395.5h1M1088 396.5h1M1105 396.5h1M1089 397.5h1M1104 397.5h1M1090 398.5h2M1103 398.5h1M1092 399.5h1M1102 399.5h1M1093 400.5h2M1101 400.5h1M1095 401.5h2M1099 401.5h2M1097 402.5h2"/>
<path fill="none" stroke="#ffa500" stroke-width="1" d="M19.5 161v2M22.5 165v2M23.5 167v2M24.5 169v2M26.5 172v2M28.5 175v2M33.5 181v2M34.5 183v2M35.5 185v3M36.5 188v2M37.5 190v2M39.5 193v2M41.5 196v2M42.5 198v2M43.5 200v3M44.5 203v2M45.5 205v3M46.5 208v2M47.5 210v2M48.5 212v2M49.5 214v3M50.5 217v3M51.5 220v3M52.5 223v3M53.5 226v2M55.5 229v2M61.5 230v2M62.5 227v3M63.5 224v3M64.5 221v3M65.5 219v2M82.5 210v2M83.5 212v2M84.5 214v2M91.5 212v2M95.5 207v2M102.5 199v2M104.5 196v2M114.5 199v2M115.5 201v2M116.5 203v2M117.5 205v2M118.5 207v2M119.5 209v2M120.5 211v2M121.5 213v2M122.5 215v2M123.5 217v2M124.5 219v2M147.5 224v2M162.5 222v2M164.5 225v2M166.5 228v2M167.5 230v2M168.5 232v2M177.5 231v2M178.5 228v3M179.5 226v2M180.5 223v3M181.5 220v3M182.5 217v3M183.5 215v2M184.5 212v3M185.5 208v4M186.5 204v4M187.5 200v4M188.5 196v4M189.5 192v4M190.5 188v4M191.5 184v4M192.5 180v4M193.5 176v4M194.5 172v4M195.5 169v3M196.5 165v4M197.5 162v3M198.5 160v2M199.5 158v2M200.5 156v2M201.5 154v2M202.5 152v2M203.5 150v2M204.5 148v2M210.5 146v2M212.5 149v2M213.5 151v2M214.5 153v3M215.5 156v4M216.5 160v3M217.5 163v3M218.5 166v3M219.5 169v2M220.5 171v3M221.5 174v3M222.5 177v2M223.5 179v2M224.5 181v2M225.5 183v3M226.5 186v3M227.5 189v4M228.5 193v3M229.5 196v2M230.5 198v2M232.5 201v2M233.5 202v2M234.5 200v2M235.5 198v2M236.5 196v2M237.5 194v2M238.5 191v3M239.5 187v4M240.5 184v3M241.5 181v3M242.5 177v4M243.5 173v4M244.5 169v4M245.5 165v4M246.5 159v6M247.5 154v5M248.5 148v6M249.5 143v5M250.5 139v4M251.5 134v5M252.5 130v4M253.5 126v4M254.5 123v3M255.5 121v2M256.5 118v3M257.5 116v2M259.5 113v2M269.5 113v2M270.5 115v2M271.5 117v2M272.5 119v2M273.5 121v2M274.5 123v2M275.5 125v3M276.5 128v2M277.5 130v3M278.5 133v2M279.5 135v2M280.5 137v2M281.5 139v3M282.5 142v3M283.5 145v2M284.5 147v3M285.5 150v4M286.5 154v4M287.5 158v4M288.5 162v4M289.5 166v4M290.5 170v2M291.5 172v2M292.5 174v2M293.5 176v3M294.5 179v2M295.5 181v3M296.5 184v2M297.5 186v3M298.5 189v2M299.5 191v2M300.5 193v2M307.5 195v2M313.5 189v2M314.5 187v2M315.5 185v2M316.5 183v2M319.5 179v2M323.5 179v2M334.5 189v2M336.5 192v2M339.5 196v2M345.5 199v2M346.5 201v2M347.5 203v2M348.5 205v2M349.5 207v2M350.5 209v2M351.5 211v3M352.5 214v2M353.5 216v2M354.5 218v2M356.5 221v2M357.5 223v2M358.5 225v3M359.5 228v2M360.5 230v3M361.5 233v3M362.5 236v2M363.5 238v2M364.5 240v2M365.5 242v2M378.5 248v2M380.5 251v2M391.5 256v2M393.5 253v2M394.5 251v2M395.5 249v2M396.5 247v2M397.5 244v3M398.5 239v5M399.5 235v4M400.5 230v5M401.5 226v4M402.5 224v2M403.5 221v3M404.5 219v2M405.5 216v3M406.5 213v3M407.5 210v3M408.5 207v3M409.5 205v2M418.5 203v2M420.5 206v2M422.5 209v2M424.5 212v2M425.5 214v2M426.5 216v3M427.5 219v4M428.5 223v3M429.5 226v3M430.5 229v3M431.5 232v4M432.5 236v3M433.5 239v3M434.5 242v3M435.5 245v4M436.5 249v3M437.5 252v3M438.5 255v2M439.5 257v2M440.5 259v2M441.5 261v2M443.5 264v2M455.5 265v2M459.5 260v2M473.5 257v2M474.5 259v2M475.5 261v3M476.5 264v2M477.5 266v4M478.5 270v4M479.5 274v4M480.5 278v4M481.5 282v4M482.5 286v4M483.5 290v4M484.5 294v4M485.5 298v3M486.5 301v3M487.5 304v4M488.5 308v3M489.5 311v3M490.5 314v3M491.5 317v4M492.5 321v3M493.5 324v2M498.5 327v2M500.5 324v2M502.5 321v2M503.5 319v2M504.5 317v2M506.5 314v2M507.5 312v2M508.5 310v2M509.5 308v2M510.5 306v2M511.5 303v3M512.5 301v2M513.5 299v2M527.5 294v2M538.5 293v2M540.5 290v2M550.5 297v2M551.5 299v2M552.5 301v2M557.5 301v2M558.5 303v2M559.5 305v2M560.5 307v2M565.5 313v2M566.5 315v3M567.5 318v2M568.5 320v3M569.5 323v2M570.5 325v2M571.5 327v2M572.5 329v2M573.5 331v2M574.5 333v2M575.5 335v2M576.5 337v2M579.5 341v2M581.5 344v2M582.5 346v3M583.5 349v2M584.5 351v3M585.5 354v2M595.5 353v2M601.5 347v2M602.5 345v2M603.5 343v2M604.5 341v2M605.5 339v2M606.5 337v2M608.5 334v2M618.5 333v2M620.5 330v2M622.5 327v2M624.5 324v2M626.5 321v2M628.5 318v2M629.5 316v2M630.5 314v2M631.5 312v2M632.5 310v2M634.5 307v2M635.5 305v2M636.5 303v2M638.5 300v2M640.5 297v2M641.5 295v2M642.5 293v2M643.5 290v3M644.5 288v2M645.5 285v3M646.5 282v3M647.5 279v3M648.5 276v3M649.5 273v3M650.5 269v4M651.5 265v4M652.5 261v4M653.5 258v3M654.5 255v3M655.5 252v3M656.5 249v3M657.5 247v2M658.5 245v2M659.5 243v2M660.5 241v2M666.5 242v2M667.5 244v2M668.5 246v2M669.5 248v2M670.5 250v2M671.5 252v2M672.5 254v2M673.5 256v2M674.5 258v2M675.5 260v2M676.5 262v2M679.5 266v2M689.5 265v2M690.5 263v2M691.5 261v2M692.5 259v2M693.5 257v2M694.5 255v2M695.5 252v3M696.5 250v2M697.5 248v2M698.5 246v2M699.5 244v2M700.5 242v2M703.5 238v2M707.5 238v2M709.5 241v2M710.5 243v2M711.5 245v2M712.5 247v2M713.5 249v3M714.5 252v4M715.5 256v3M716.5 259v4M717.5 263v3M718.5 266v4M719.5 270v4M720.5 274v4M721.5 278v3M722.5 281v4M723.5 285v4M724.5 289v4M725.5 293v2M729.5 298v2M730.5 300v2M731.5 302v2M732.5 304v2M749.5 305v2M750.5 303v2M751.5 301v2M752.5 299v2M753.5 297v2M754.5 295v2M755.5 293v2M756.5 291v2M758.5 288v2M759.5 286v2M760.5 284v2M770.5 284v2M771.5 286v2M772.5 288v2M774.5 291v2M775.5 293v2M776.5 295v2M778.5 298v2M780.5 301v2M781.5 303v2M782.5 305v2M783.5 307v2M784.5 309v2M785.5 311v2M798.5 312v2M799.5 310v2M800.5 308v2M801.5 306v2M802.5 304v2M803.5 301v3M804.5 299v2M805.5 296v3M806.5 294v2M807.5 292v2M808.5 290v2M809.5 288v2M810.5 286v2M811.5 284v2M812.5 282v2M833.5 281v2M834.5 279v2M835.5 277v2M836.5 275v2M837.5 273v2M838.5 271v2M839.5 269v2M840.5 267v2M842.5 264v2M844.5 261v2M847.5 257v2M849.5 254v2M850.5 252v2M851.5 250v2M852.5 248v2M866.5 253v2M867.5 255v2M868.5 257v2M869.5 259v2M870.5 261v2M871.5 263v2M872.5 265v2M885.5 271v2M886.5 269v2M887.5 266v3M888.5 264v2M889.5 261v3M890.5 258v3M891.5 256v2M892.5 253v3M893.5 250v3M894.5 247v3M895.5 244v3M896.5 241v3M897.5 238v3M898.5 234v4M899.5 230v4M900.5 226v4M901.5 223v3M902.5 220v3M903.5 216v4M904.5 213v3M905.5 211v2M921.5 217v2M922.5 219v2M923.5 221v2M924.5 223v2M925.5 225v3M926.5 228v2M927.5 230v2M928.5 232v2M929.5 234v2M930.5 236v2M932.5 239v2M934.5 242v2M936.5 245v2M937.5 247v2M938.5 249v2M939.5 251v2M940.5 253v2M951.5 252v2M963.5 252v2M970.5 260v2M972.5 263v2M974.5 266v2M975.5 268v2M976.5 270v2M979.5 274v2M981.5 277v2M982.5 279v2M983.5 281v2M984.5 283v2M987.5 287v2M989.5 290v2M990.5 292v2M991.5 294v2M992.5 296v2M993.5 298v3M994.5 301v2M995.5 303v2M996.5 305v2M1006.5 308v2M1008.5 305v2M1009.5 303v2M1010.5 301v2M1011.5 299v2M1012.5 297v2M1014.5 294v2M1016.5 291v2M1025.5 291v2M1026.5 293v3M1027.5 296v2M1028.5 298v3M1029.5 301v3M1030.5 304v4M1031.5 308v3M1032.5 311v4M1033.5 315v3M1034.5 318v3M1035.5 321v3M1036.5 324v3M1037.5 327v3M1038.5 330v3M1039.5 333v3M1040.5 336v3M1041.5 339v3M1042.5 342v2M1043.5 344v3M1044.5 347v2M1045.5 349v3M1046.5 352v2M1047.5 354v2M1048.5 356v2M1049.5 358v3M1050.5 361v3M1051.5 364v4M1052.5 368v3M1053.5 371v3M1054.5 374v3M1055.5 377v2M1056.5 379v3M1057.5 382v3M1058.5 385v2M1059.5 387v2M1060.5 389v2M1061.5 391v3M1062.5 394v2M1063.5 396v3M1064.5 399v2M1065.5 401v2M1066.5 403v2M1067.5 405v2M1068.5 407v2M1070.5 410v2M1071.5 412v2M1072.5 414v2M1089.5 410v2M1090.5 408v2M1091.5 406v2M1092.5 404v2M1094.5 401v2M1095.5 399v2M1096.5 397v2M1097.5 395v2M1098.5 391v4M1099.5 388v3M1100.5 384v4M1101.5 381v3M1102.5 377v4M1103.5 374v3M1104.5 370v4M1105.5 366v4M1106.5 361v5M1107.5 357v4M1108.5 352v5M1109.5 346v6M1110.5 339v7M1111.5 331v8M1112.5 324v7M1113.5 316v8M1114.5 308v8M1115.5 299v9M1116.5 291v8M1117.5 284v7M1118.5 280v4M1119.5 276v4M1120.5 272v4M1121.5 267v5M1122.5 261v6M1123.5 256v5M1124.5 250v6M1125.5 244v6M1126.5 236v8M1127.5 228v8M1128.5 220v8M1129.5 214v6M1130.5 209v5M1131.5 204v5M1132.5 199v5M1133.5 193v6M1134.5 186v7M1135.5 180v6M1136.5 173v7M1137.5 167v6M1138.5 161v6M1139.5 156v5M1140.5 150v6M1141.5 146v4M1142.5 144v2M1143.5 141v3M1144.5 139v2M1145.5 137v4M1146.5 141v6M1147.5 147v6M1148.5 153v6M1149.5 159v7M1150.5 166v7M1151.5 173v7M1152.5 180v7M1153.5 187v8M1154.5 195v10M1155.5 205v9M1156.5 214v10M1157.5 224v7M1158.5 231v6M1159.5 237v5M1160.5 242v6M1161.5 248v7M1162.5 255v8M1163.5 263v9M1164.5 272v8M1165.5 280v8M1166.5 288v7M1167.5 295v6M1168.5 301v7M1169.5 308v9M1170.5 317v10M1171.5 327v10M1172.5 337v10M1173.5 347v10M1174.5 357v11M1175.5 368v10M1176.5 378v11M1177.5 389v12M1178.5 401v13M1179.5 414v14M1180.5 428v13M1181.5 441v9M1182.5 450v6M1183.5 456v6M1184.5 462v6M1185.5 468v3M1189.5 473v2M1190.5 469v4M1191.5 465v4M1192.5 461v4M1193.5 455v6M1194.5 445v10M1195.5 436v9M1196.5 426v10M1197.5 416v10M1198.5 405v11M1199.5 394v11M1200.5 383v11M1201.5 373v10M1202.5 363v10M1203.5 353v10M1204.5 343v10M1205.5 335v8M1206.5 329v6M1207.5 323v6M1208.5 317v6M1209.5 311v6M1210.5 306v5M1211.5 302v4M1212.5 297v5M1213.5 294v3M1214.5 296v2M1215.5 298v3M1216.5 301v2M1217.5 303v4M1218.5 307v6M1219.5 313v5M1220.5 318v6M1221.5 324v7M1222.5 331v9M1223.5 340v8M1224.5 348v9M1225.5 357v7M1226.5 364v6M1227.5 370v6M1228.5 376v6M1229.5 382v5M1230.5 387v6M1231.5 393v6M1232.5 399v6M1233.5 405v3M1235.5 409v2M1241.5 410v3M1242.5 406v4M1243.5 402v4M1244.5 398v4M1245.5 395v3M1246.5 391v4M1247.5 387v4M1248.5 383v4M1249.5 380v3M1250.5 376v4M1251.5 373v3M1252.5 369v4M1253.5 367v2M1257.5 364v2M1258.5 361v3M1259.5 359v2M1260.5 356v3M1261.5 354v2M1266.5 358v2M1268.5 361v2M261 111.5h6M260 112.5h1M267 112.5h2M258 115.5h1M209 145.5h1M207 146.5h2M205 147.5h2M211 148.5h1M17 159.5h1M15 160.5h2M18 160.5h1M12 161.5h3M9 162.5h3M8 163.5h1M20 163.5h1M6 164.5h2M21 164.5h1M5 165.5h1M25 171.5h1M27 174.5h1M29 177.5h1M321 177.5h1M30 178.5h1M320 178.5h1M322 178.5h1M31 179.5h1M32 180.5h1M318 181.5h1M324 181.5h1M317 182.5h1M325 182.5h1M326 183.5h2M328 184.5h1M329 185.5h1M330 186.5h2M332 187.5h1M333 188.5h1M312 191.5h1M335 191.5h1M38 192.5h1M310 192.5h2M309 193.5h1M308 194.5h1M337 194.5h1M40 195.5h1M105 195.5h5M301 195.5h1M338 195.5h1M110 196.5h2M302 196.5h2M112 197.5h1M304 197.5h1M306 197.5h1M103 198.5h1M113 198.5h1M305 198.5h1M340 198.5h1M341 199.5h4M231 200.5h1M101 201.5h1M100 202.5h1M417 202.5h1M99 203.5h1M415 203.5h2M98 204.5h1M412 204.5h3M97 205.5h1M410 205.5h2M419 205.5h1M96 206.5h1M909 207.5h1M77 208.5h3M421 208.5h1M908 208.5h1M910 208.5h2M76 209.5h1M80 209.5h2M94 209.5h1M907 209.5h1M912 209.5h1M74 210.5h2M93 210.5h1M906 210.5h1M913 210.5h1M73 211.5h1M92 211.5h1M423 211.5h1M914 211.5h2M72 212.5h1M916 212.5h1M71 213.5h1M917 213.5h1M70 214.5h1M90 214.5h1M918 214.5h1M69 215.5h1M88 215.5h2M919 215.5h1M68 216.5h1M85 216.5h3M920 216.5h1M67 217.5h1M157 217.5h1M66 218.5h1M155 218.5h2M158 218.5h1M153 219.5h2M159 219.5h1M152 220.5h1M160 220.5h1M355 220.5h1M125 221.5h1M150 221.5h2M161 221.5h1M126 222.5h1M149 222.5h1M127 223.5h1M148 223.5h1M128 224.5h1M163 224.5h1M129 225.5h1M130 226.5h1M146 226.5h1M131 227.5h1M145 227.5h1M165 227.5h1M54 228.5h1M132 228.5h1M144 228.5h1M133 229.5h1M143 229.5h1M134 230.5h2M142 230.5h1M56 231.5h1M60 231.5h1M136 231.5h1M140 231.5h2M57 232.5h3M137 232.5h3M176 233.5h1M169 234.5h3M174 234.5h2M172 235.5h2M705 236.5h1M704 237.5h1M706 237.5h1M931 238.5h1M661 240.5h3M702 240.5h1M708 240.5h1M664 241.5h2M701 241.5h1M933 241.5h1M366 243.5h1M367 244.5h2M372 244.5h2M935 244.5h1M369 245.5h3M374 245.5h2M376 246.5h1M856 246.5h3M377 247.5h1M853 247.5h3M859 247.5h2M957 247.5h1M861 248.5h1M956 248.5h1M958 248.5h2M862 249.5h1M954 249.5h2M960 249.5h1M379 250.5h1M863 250.5h1M953 250.5h1M961 250.5h1M864 251.5h1M952 251.5h1M962 251.5h1M865 252.5h1M381 253.5h2M383 254.5h2M950 254.5h1M964 254.5h1M385 255.5h1M392 255.5h1M941 255.5h9M965 255.5h1M386 256.5h1M465 256.5h3M848 256.5h1M966 256.5h1M387 257.5h1M463 257.5h2M468 257.5h5M967 257.5h1M388 258.5h1M390 258.5h1M461 258.5h2M968 258.5h1M389 259.5h1M460 259.5h1M846 259.5h1M969 259.5h1M845 260.5h1M458 262.5h1M971 262.5h1M442 263.5h1M457 263.5h1M843 263.5h1M456 264.5h1M677 264.5h1M678 265.5h1M973 265.5h1M444 266.5h1M841 266.5h1M445 267.5h3M454 267.5h1M688 267.5h1M873 267.5h1M448 268.5h6M680 268.5h1M686 268.5h2M874 268.5h1M681 269.5h5M875 269.5h1M876 270.5h1M877 271.5h1M878 272.5h2M977 272.5h1M880 273.5h1M883 273.5h2M978 273.5h1M881 274.5h2M980 276.5h1M817 277.5h2M816 278.5h1M819 278.5h2M815 279.5h1M821 279.5h3M814 280.5h1M824 280.5h7M765 281.5h2M813 281.5h1M831 281.5h2M763 282.5h2M767 282.5h2M761 283.5h2M769 283.5h1M985 285.5h1M986 286.5h1M1021 287.5h1M1020 288.5h1M1022 288.5h1M541 289.5h1M988 289.5h1M1018 289.5h2M1023 289.5h1M542 290.5h1M757 290.5h1M773 290.5h1M1017 290.5h1M1024 290.5h1M532 291.5h2M543 291.5h1M529 292.5h3M534 292.5h1M539 292.5h1M544 292.5h1M528 293.5h1M535 293.5h1M545 293.5h1M1015 293.5h1M536 294.5h1M546 294.5h2M537 295.5h1M548 295.5h1M726 295.5h1M526 296.5h1M549 296.5h1M727 296.5h1M1013 296.5h1M517 297.5h1M525 297.5h1M728 297.5h1M777 297.5h1M515 298.5h2M518 298.5h1M524 298.5h1M514 299.5h1M519 299.5h1M523 299.5h1M639 299.5h1M520 300.5h1M522 300.5h1M779 300.5h1M521 301.5h1M555 302.5h2M637 302.5h1M553 303.5h2M733 306.5h1M734 307.5h1M747 307.5h2M997 307.5h1M1007 307.5h1M735 308.5h1M745 308.5h2M998 308.5h1M561 309.5h1M633 309.5h1M736 309.5h1M744 309.5h1M999 309.5h1M562 310.5h1M737 310.5h3M742 310.5h2M1000 310.5h1M1004 310.5h2M563 311.5h1M740 311.5h2M1001 311.5h3M564 312.5h1M786 313.5h2M788 314.5h1M796 314.5h2M789 315.5h7M505 316.5h1M627 320.5h1M501 323.5h1M625 323.5h1M494 326.5h1M499 326.5h1M623 326.5h1M495 327.5h1M496 328.5h1M497 329.5h1M621 329.5h1M619 332.5h1M609 333.5h6M615 334.5h2M617 335.5h1M607 336.5h1M577 339.5h1M578 340.5h1M580 343.5h1M600 349.5h1M598 350.5h2M597 351.5h1M596 352.5h1M586 355.5h1M594 355.5h1M1262 355.5h2M587 356.5h2M592 356.5h2M1264 356.5h1M589 357.5h3M1265 357.5h1M1267 360.5h1M1269 363.5h1M1255 366.5h2M1254 367.5h1M1093 403.5h1M1234 408.5h1M1069 409.5h1M1236 411.5h1M1088 412.5h1M1237 412.5h4M1087 413.5h1M1086 414.5h1M1085 415.5h1M1073 416.5h1M1084 416.5h1M1074 417.5h1M1082 417.5h2M1075 418.5h1M1081 418.5h1M1076 419.5h1M1079 419.5h2M1077 420.5h2M1186 471.5h1M1187 472.5h1M1188 473.5h1"/>
<rect x="5" y="153" width="1592" height="2" fill="#ff0000"/>
<rect x="5" y="209" width="1592" height="2" fill="#ff0000"/>
<rect x="5" y="263" width="1592" height="2" fill="#ff0000"/>
<rect x="5" y="318" width="1592" height="2" fill="#ff0000"/>
<rect x="5" y="384" width="1592" height="2" fill="#00ff00"/>
<rect x="5" y="444" width="1592" height="2" fill="#0000ff"/>
<rect x="5" y="521" width="1592" height="2" fill="#0000ff"/>
<rect x="4" y="24" width="1594" height="1" fill="#000"/>
<rect x="4" y="530" width="1594" height="1" fill="#000"/>
<rect x="4" y="24" width="1" height="507" fill="#000"/>
<rect x="1597" y="24" width="1" height="507" fill="#000"/>
<rect x="4" y="532" width="1594" height="1" fill="#000"/>
<rect x="4" y="624" width="1594" height="1" fill="#000"/>
<rect x="4" y="532" width="1" height="93" fill="#000"/>
<rect x="1597" y="532" width="1" height="93" fill="#000"/>
<rect x="4" y="626" width="1594" height="1" fill="#000"/>
<rect x="4" y="718" width="1594" height="1" fill="#000"/>
<rect x="4" y="626" width="1" height="93" fill="#000"/>
<rect x="1597" y="626" width="1" height="93" fill="#000"/>
<rect x="4" y="382" width="6" height="6" fill="#00ff00"/>
<rect x="6" y="384" width="2" height="2" fill="#fff"/>
<rect x="1591" y="382" width="6" height="6" fill="#00ff00"/>
<rect x="1593" y="384" width="2" height="2" fill="#fff"/>
<rect x="4" y="442" width="6" height="6" fill="#0000ff"/>
<rect x="6" y="444" width="2" height="2" fill="#fff"/>
<rect x="1591" y="442" width="6" height="6" fill="#0000ff"/>
<rect x="1593" y="444" width="2" height="2" fill="#fff"/>
<rect x="1598" y="32" width="2" height="1" fill="#000"/>
<text x="1603.5" y="36" font-size="9.8" fill="#000" stroke="#000" stroke-width="0.18" textLength="32" lengthAdjust="spacingAndGlyphs">1.15265</text>
<rect x="1598" y="65" width="2" height="1" fill="#000"/>
<text x="1603.5" y="69" font-size="9.8" fill="#000" stroke="#000" stroke-width="0.18" textLength="32" lengthAdjust="spacingAndGlyphs">1.14650</text>
<rect x="1598" y="98" width="2" height="1" fill="#000"/>
<text x="1603.5" y="102" font-size="9.8" fill="#000" stroke="#000" stroke-width="0.18" textLength="32" lengthAdjust="spacingAndGlyphs">1.14050</text>
<rect x="1598" y="131" width="2" height="1" fill="#000"/>
<text x="1603.5" y="135" font-size="9.8" fill="#000" stroke="#000" stroke-width="0.18" textLength="32" lengthAdjust="spacingAndGlyphs">1.13450</text>
<rect x="1598" y="164" width="2" height="1" fill="#000"/>
<text x="1603.5" y="168" font-size="9.8" fill="#000" stroke="#000" stroke-width="0.18" textLength="32" lengthAdjust="spacingAndGlyphs">1.12850</text>
<rect x="1598" y="197" width="2" height="1" fill="#000"/>
<text x="1603.5" y="201" font-size="9.8" fill="#000" stroke="#000" stroke-width="0.18" textLength="32" lengthAdjust="spacingAndGlyphs">1.12235</text>
<rect x="1598" y="230" width="2" height="1" fill="#000"/>
<text x="1603.5" y="234" font-size="9.8" fill="#000" stroke="#000" stroke-width="0.18" textLength="32" lengthAdjust="spacingAndGlyphs">1.11635</text>
<rect x="1598" y="296" width="2" height="1" fill="#000"/>
<text x="1603.5" y="300" font-size="9.8" fill="#000" stroke="#000" stroke-width="0.18" textLength="32" lengthAdjust="spacingAndGlyphs">1.10435</text>
<rect x="1598" y="329" width="2" height="1" fill="#000"/>
<text x="1603.5" y="333" font-size="9.8" fill="#000" stroke="#000" stroke-width="0.18" textLength="32" lengthAdjust="spacingAndGlyphs">1.09820</text>
<rect x="1598" y="362" width="2" height="1" fill="#000"/>
<text x="1603.5" y="366" font-size="9.8" fill="#000" stroke="#000" stroke-width="0.18" textLength="32" lengthAdjust="spacingAndGlyphs">1.09220</text>
<rect x="1598" y="395" width="2" height="1" fill="#000"/>
<text x="1603.5" y="399" font-size="9.8" fill="#000" stroke="#000" stroke-width="0.18" textLength="32" lengthAdjust="spacingAndGlyphs">1.08620</text>
<rect x="1598" y="428" width="2" height="1" fill="#000"/>
<text x="1603.5" y="432" font-size="9.8" fill="#000" stroke="#000" stroke-width="0.18" textLength="32" lengthAdjust="spacingAndGlyphs">1.08020</text>
<rect x="1598" y="461" width="2" height="1" fill="#000"/>
<text x="1603.5" y="465" font-size="9.8" fill="#000" stroke="#000" stroke-width="0.18" textLength="32" lengthAdjust="spacingAndGlyphs">1.07405</text>
<rect x="1598" y="494" width="2" height="1" fill="#000"/>
<text x="1603.5" y="498" font-size="9.8" fill="#000" stroke="#000" stroke-width="0.18" textLength="32" lengthAdjust="spacingAndGlyphs">1.06805</text>
<rect x="1598" y="527" width="2" height="1" fill="#000"/>
<text x="1603.5" y="531" font-size="9.8" fill="#000" stroke="#000" stroke-width="0.18" textLength="32" lengthAdjust="spacingAndGlyphs">1.06205</text>
<rect x="1599" y="377" width="41" height="11" fill="#000"/>
<rect x="1599" y="148" width="41" height="11" fill="#ff0000"/>
<text x="1603.5" y="157" font-size="9.8" fill="#fff" stroke="#fff" stroke-width="0.18" textLength="32" lengthAdjust="spacingAndGlyphs">1.13034</text>
<rect x="1599" y="204" width="41" height="11" fill="#ff0000"/>
<text x="1603.5" y="213" font-size="9.8" fill="#fff" stroke="#fff" stroke-width="0.18" textLength="32" lengthAdjust="spacingAndGlyphs">1.12004</text>
<rect x="1599" y="258" width="41" height="11" fill="#ff0000"/>
<text x="1603.5" y="267" font-size="9.8" fill="#fff" stroke="#fff" stroke-width="0.18" textLength="32" lengthAdjust="spacingAndGlyphs">1.11009</text>
<rect x="1599" y="313" width="41" height="11" fill="#ff0000"/>
<text x="1603.5" y="322" font-size="9.8" fill="#fff" stroke="#fff" stroke-width="0.18" textLength="32" lengthAdjust="spacingAndGlyphs">1.10008</text>
<rect x="1599" y="379" width="41" height="11" fill="#00ff00"/>
<text x="1603.5" y="388" font-size="9.8" fill="#fff" stroke="#fff" stroke-width="0.18" textLength="32" lengthAdjust="spacingAndGlyphs">1.08800</text>
<rect x="1599" y="439" width="41" height="11" fill="#0000ff"/>
<text x="1603.5" y="448" font-size="9.8" fill="#fff" stroke="#fff" stroke-width="0.18" textLength="32" lengthAdjust="spacingAndGlyphs">1.07712</text>
<rect x="1599" y="516" width="41" height="11" fill="#0000ff"/>
<text x="1603.5" y="525" font-size="9.8" fill="#fff" stroke="#fff" stroke-width="0.18" textLength="32" lengthAdjust="spacingAndGlyphs">1.06306</text>
<rect x="1598" y="534" width="1" height="1" fill="#000"/>
<text x="1601.3" y="543" font-size="9.8" fill="#000" stroke="#000" stroke-width="0.18" textLength="14.3" lengthAdjust="spacingAndGlyphs">100</text>
<rect x="1598" y="560" width="2" height="1" fill="#000"/>
<text x="1601" y="564" font-size="9.8" fill="#000" stroke="#000" stroke-width="0.18" textLength="9.3" lengthAdjust="spacingAndGlyphs">70</text>
<rect x="1598" y="596" width="2" height="1" fill="#000"/>
<text x="1601" y="600" font-size="9.8" fill="#000" stroke="#000" stroke-width="0.18" textLength="9.3" lengthAdjust="spacingAndGlyphs">30</text>
<text x="1601.3" y="621" font-size="9.8" fill="#000" stroke="#000" stroke-width="0.18" textLength="4.6" lengthAdjust="spacingAndGlyphs">0</text>
<rect x="1598" y="627" width="1" height="1" fill="#000"/>
<text x="1601.3" y="637" font-size="9.8" fill="#000" stroke="#000" stroke-width="0.18" textLength="37.4" lengthAdjust="spacingAndGlyphs">0.011277</text>
<rect x="1598" y="678" width="2" height="1" fill="#000"/>
<text x="1601.3" y="682" font-size="9.8" fill="#000" stroke="#000" stroke-width="0.18" textLength="18" lengthAdjust="spacingAndGlyphs">0.00</text>
<rect x="1598" y="717" width="2" height="1" fill="#000"/>
<text x="1601.3" y="715" font-size="9.8" fill="#000" stroke="#000" stroke-width="0.18" textLength="40" lengthAdjust="spacingAndGlyphs">-0.008845</text>
<line x1="6" y1="560.5" x2="1597" y2="560.5" stroke="#c0c0c0" stroke-width="1" stroke-dasharray="3 3"/>
<line x1="6" y1="596.5" x2="1597" y2="596.5" stroke="#c0c0c0" stroke-width="1" stroke-dasharray="3 3"/>
<path fill="none" stroke="#1e90ff" stroke-width="1" d="M17.5 575v2M18.5 577v2M19.5 579v3M20.5 582v2M21.5 584v2M33.5 580v2M34.5 582v2M35.5 584v2M36.5 586v2M42.5 591v2M44.5 594v2M58.5 588v2M59.5 586v2M60.5 584v2M62.5 581v2M63.5 579v2M64.5 577v2M66.5 577v2M67.5 579v2M68.5 581v2M87.5 582v2M142.5 582v2M143.5 580v2M144.5 578v2M151.5 577v2M158.5 584v2M160.5 587v2M171.5 582v2M174.5 578v2M176.5 575v2M179.5 571v2M186.5 566v2M188.5 563v2M198.5 559v2M199.5 561v2M200.5 563v2M210.5 566v2M211.5 568v2M212.5 570v2M213.5 572v2M214.5 574v2M215.5 576v2M216.5 578v2M217.5 580v2M223.5 580v2M227.5 580v2M233.5 579v2M234.5 577v2M235.5 575v2M236.5 573v2M239.5 569v2M269.5 566v2M270.5 568v3M271.5 571v2M272.5 573v3M273.5 576v2M285.5 580v2M286.5 582v2M287.5 584v2M288.5 586v2M301.5 587v2M302.5 585v2M303.5 583v2M304.5 581v2M322.5 581v2M323.5 583v2M324.5 585v2M346.5 587v2M347.5 589v2M348.5 591v2M378.5 592v2M379.5 594v2M380.5 596v2M381.5 597v2M382.5 595v2M383.5 592v3M384.5 590v2M385.5 588v2M389.5 588v2M390.5 585v3M391.5 581v4M392.5 578v3M393.5 576v2M399.5 574v2M423.5 581v2M453.5 588v2M454.5 586v2M455.5 583v3M456.5 581v2M457.5 579v2M463.5 581v2M478.5 591v2M479.5 593v2M480.5 595v2M493.5 597v2M494.5 594v3M495.5 592v2M496.5 589v3M497.5 587v2M511.5 583v2M519.5 585v2M521.5 587v2M522.5 584v3M523.5 582v2M524.5 579v3M525.5 577v2M533.5 578v2M534.5 580v2M535.5 582v2M536.5 584v2M537.5 585v2M538.5 583v2M539.5 581v2M540.5 579v2M551.5 582v2M566.5 584v2M568.5 587v2M587.5 590v2M594.5 583v2M596.5 580v2M619.5 577v2M639.5 570v2M643.5 565v2M705.5 566v2M706.5 568v4M707.5 572v4M708.5 576v4M709.5 580v2M741.5 588v2M742.5 586v2M743.5 584v2M744.5 582v2M745.5 580v2M766.5 577v2M767.5 579v2M768.5 581v2M790.5 585v2M792.5 582v2M797.5 582v2M798.5 580v2M799.5 577v3M800.5 575v2M801.5 573v2M813.5 569v2M814.5 571v2M815.5 573v2M816.5 575v2M817.5 577v2M835.5 570v2M854.5 565v2M855.5 567v2M856.5 569v2M863.5 575v2M885.5 575v2M886.5 573v2M887.5 570v3M888.5 568v2M889.5 566v2M909.5 565v2M910.5 567v2M911.5 569v2M912.5 571v2M921.5 569v2M922.5 571v2M923.5 573v2M924.5 575v2M925.5 577v2M950.5 578v2M952.5 575v2M958.5 579v2M960.5 582v2M1002.5 591v2M1003.5 589v2M1004.5 587v2M1005.5 585v2M1006.5 583v2M1007.5 581v2M1008.5 579v2M1009.5 577v2M1014.5 577v2M1016.5 580v2M1023.5 586v2M1077.5 602v2M1078.5 599v3M1079.5 596v3M1080.5 593v3M1081.5 591v2M1097.5 586v3M1098.5 581v5M1099.5 577v4M1100.5 572v5M1101.5 569v3M1109.5 563v2M1110.5 561v2M1111.5 559v2M1112.5 557v2M1118.5 554v2M1119.5 556v2M1120.5 558v2M1127.5 554v2M1137.5 548v2M1138.5 550v2M1139.5 552v3M1140.5 555v2M1141.5 557v2M1142.5 559v2M1144.5 562v2M1145.5 564v2M1146.5 566v4M1147.5 570v4M1148.5 574v4M1149.5 578v2M1159.5 577v2M1161.5 575v2M1162.5 577v2M1163.5 579v3M1164.5 582v2M1165.5 584v2M1166.5 586v2M1168.5 589v2M1182.5 594v2M1183.5 592v2M1184.5 590v2M1193.5 583v2M1194.5 581v2M1195.5 579v2M1196.5 577v2M1197.5 575v2M1207.5 573v2M1235.5 583v2M1259.5 577v2M1136 549.5h1M1134 550.5h2M1132 551.5h2M1129 552.5h3M1117 553.5h1M1128 553.5h1M1116 554.5h1M1114 555.5h2M1113 556.5h1M1126 556.5h1M1125 557.5h1M196 558.5h2M1124 558.5h1M193 559.5h3M1122 559.5h2M192 560.5h1M652 560.5h2M901 560.5h3M1121 560.5h1M190 561.5h2M649 561.5h3M654 561.5h1M899 561.5h2M904 561.5h2M1143 561.5h1M189 562.5h1M249 562.5h2M647 562.5h2M655 562.5h1M897 562.5h2M906 562.5h1M247 563.5h2M251 563.5h2M256 563.5h2M645 563.5h2M656 563.5h1M697 563.5h2M895 563.5h2M907 563.5h1M204 564.5h4M245 564.5h2M253 564.5h3M258 564.5h2M644 564.5h1M657 564.5h3M695 564.5h2M699 564.5h2M853 564.5h1M893 564.5h2M908 564.5h1M187 565.5h1M201 565.5h3M208 565.5h2M244 565.5h1M260 565.5h1M660 565.5h2M693 565.5h2M701 565.5h3M841 565.5h1M852 565.5h1M891 565.5h2M1108 565.5h1M242 566.5h2M261 566.5h8M662 566.5h2M692 566.5h1M704 566.5h1M840 566.5h1M842 566.5h1M850 566.5h2M890 566.5h1M1107 566.5h1M241 567.5h1M642 567.5h1M664 567.5h1M691 567.5h1M838 567.5h2M843 567.5h1M849 567.5h1M1106 567.5h1M184 568.5h2M240 568.5h1M641 568.5h1M665 568.5h1M690 568.5h1M837 568.5h1M844 568.5h1M847 568.5h2M1104 568.5h2M181 569.5h3M640 569.5h1M666 569.5h1M688 569.5h2M812 569.5h1M836 569.5h1M845 569.5h2M1102 569.5h2M180 570.5h1M667 570.5h1M685 570.5h3M808 570.5h4M920 570.5h1M238 571.5h1M668 571.5h1M684 571.5h1M805 571.5h3M829 571.5h2M857 571.5h2M918 571.5h2M1205 571.5h1M237 572.5h1M401 572.5h1M625 572.5h5M638 572.5h1M669 572.5h1M682 572.5h2M803 572.5h2M828 572.5h1M831 572.5h2M834 572.5h1M859 572.5h2M916 572.5h2M1203 572.5h2M1206 572.5h1M8 573.5h3M178 573.5h1M400 573.5h1M402 573.5h1M624 573.5h1M630 573.5h2M637 573.5h1M670 573.5h2M681 573.5h1M802 573.5h1M827 573.5h1M833 573.5h1M861 573.5h1M913 573.5h3M1201 573.5h2M5 574.5h3M11 574.5h2M97 574.5h2M177 574.5h1M403 574.5h1M409 574.5h2M622 574.5h2M632 574.5h1M635 574.5h2M672 574.5h1M679 574.5h2M826 574.5h1M862 574.5h1M953 574.5h1M1199 574.5h2M13 575.5h4M95 575.5h2M99 575.5h2M149 575.5h1M404 575.5h1M407 575.5h2M411 575.5h2M416 575.5h2M621 575.5h1M633 575.5h2M673 575.5h6M753 575.5h5M825 575.5h1M954 575.5h1M1198 575.5h1M1208 575.5h1M1261 575.5h1M65 576.5h1M93 576.5h2M101 576.5h5M147 576.5h2M150 576.5h1M394 576.5h2M398 576.5h1M405 576.5h2M413 576.5h3M418 576.5h1M620 576.5h1M752 576.5h1M758 576.5h2M765 576.5h1M823 576.5h2M955 576.5h1M1012 576.5h2M1160 576.5h1M1209 576.5h5M1260 576.5h1M1262 576.5h1M92 577.5h1M106 577.5h1M145 577.5h2M175 577.5h1M274 577.5h2M396 577.5h2M419 577.5h1M526 577.5h6M751 577.5h1M760 577.5h1M763 577.5h2M820 577.5h3M864 577.5h1M873 577.5h7M883 577.5h2M951 577.5h1M956 577.5h1M1010 577.5h2M1214 577.5h1M1248 577.5h4M1263 577.5h1M91 578.5h1M107 578.5h1M225 578.5h1M276 578.5h3M317 578.5h2M420 578.5h1M532 578.5h1M541 578.5h2M750 578.5h1M761 578.5h2M818 578.5h2M865 578.5h1M872 578.5h1M880 578.5h3M945 578.5h2M957 578.5h1M1215 578.5h1M1245 578.5h3M1252 578.5h3M1264 578.5h1M90 579.5h1M108 579.5h1M152 579.5h1M224 579.5h1M226 579.5h1M279 579.5h2M316 579.5h1M319 579.5h2M421 579.5h1M458 579.5h4M543 579.5h2M597 579.5h1M618 579.5h1M748 579.5h2M866 579.5h2M871 579.5h1M926 579.5h2M943 579.5h2M947 579.5h2M1015 579.5h1M1150 579.5h2M1158 579.5h1M1216 579.5h1M1244 579.5h1M1255 579.5h2M1258 579.5h1M1265 579.5h2M89 580.5h1M109 580.5h2M153 580.5h1M173 580.5h1M281 580.5h4M305 580.5h7M314 580.5h2M321 580.5h1M422 580.5h1M462 580.5h1M545 580.5h5M598 580.5h2M605 580.5h5M617 580.5h1M746 580.5h2M868 580.5h1M870 580.5h1M928 580.5h1M940 580.5h3M949 580.5h1M1152 580.5h6M1217 580.5h1M1243 580.5h1M1257 580.5h1M1267 580.5h2M32 581.5h1M88 581.5h1M111 581.5h2M154 581.5h2M172 581.5h1M218 581.5h1M232 581.5h1M312 581.5h2M513 581.5h2M550 581.5h1M600 581.5h1M603 581.5h2M610 581.5h1M616 581.5h1M710 581.5h4M793 581.5h2M869 581.5h1M929 581.5h2M937 581.5h3M959 581.5h1M1218 581.5h1M1237 581.5h3M1242 581.5h1M1269 581.5h1M30 582.5h2M77 582.5h5M113 582.5h1M156 582.5h1M219 582.5h2M222 582.5h1M228 582.5h1M230 582.5h2M512 582.5h1M515 582.5h2M595 582.5h1M601 582.5h2M611 582.5h1M615 582.5h1M714 582.5h1M795 582.5h2M931 582.5h2M935 582.5h2M973 582.5h1M1017 582.5h2M1219 582.5h1M1236 582.5h1M1240 582.5h2M29 583.5h1M61 583.5h1M69 583.5h3M75 583.5h2M82 583.5h2M114 583.5h2M157 583.5h1M221 583.5h1M229 583.5h1M329 583.5h3M424 583.5h1M464 583.5h1M517 583.5h1M557 583.5h1M565 583.5h1M612 583.5h1M614 583.5h1M715 583.5h1M769 583.5h3M933 583.5h2M972 583.5h1M974 583.5h1M1019 583.5h2M1220 583.5h1M28 584.5h1M72 584.5h3M84 584.5h1M86 584.5h1M116 584.5h1M141 584.5h1M170 584.5h1M328 584.5h1M332 584.5h4M425 584.5h1M465 584.5h2M504 584.5h3M518 584.5h1M552 584.5h1M555 584.5h2M558 584.5h2M564 584.5h1M613 584.5h1M716 584.5h1M772 584.5h2M791 584.5h1M961 584.5h6M971 584.5h1M975 584.5h1M1021 584.5h1M1221 584.5h2M22 585.5h1M27 585.5h1M85 585.5h1M117 585.5h2M129 585.5h1M140 585.5h1M169 585.5h1M327 585.5h1M336 585.5h8M426 585.5h1M467 585.5h2M501 585.5h3M507 585.5h2M510 585.5h1M553 585.5h2M560 585.5h1M562 585.5h2M593 585.5h1M717 585.5h1M729 585.5h1M774 585.5h2M967 585.5h2M970 585.5h1M976 585.5h1M1022 585.5h1M1192 585.5h1M1223 585.5h2M1228 585.5h4M1234 585.5h1M23 586.5h2M26 586.5h1M119 586.5h2M128 586.5h1M130 586.5h2M139 586.5h1M159 586.5h1M168 586.5h1M326 586.5h1M344 586.5h2M427 586.5h1M469 586.5h3M499 586.5h2M509 586.5h1M561 586.5h1M567 586.5h1M592 586.5h1M718 586.5h2M728 586.5h1M730 586.5h1M776 586.5h1M969 586.5h1M977 586.5h1M1190 586.5h2M1225 586.5h3M1232 586.5h2M25 587.5h1M121 587.5h3M126 587.5h2M132 587.5h1M138 587.5h1M166 587.5h2M292 587.5h3M325 587.5h1M428 587.5h1M472 587.5h2M498 587.5h1M520 587.5h1M590 587.5h2M720 587.5h1M726 587.5h2M731 587.5h1M777 587.5h6M789 587.5h1M978 587.5h1M1189 587.5h1M37 588.5h2M124 588.5h2M133 588.5h5M164 588.5h2M289 588.5h3M295 588.5h2M300 588.5h1M386 588.5h2M429 588.5h3M436 588.5h16M474 588.5h2M589 588.5h1M721 588.5h5M732 588.5h1M736 588.5h4M783 588.5h2M787 588.5h2M979 588.5h1M1024 588.5h1M1096 588.5h1M1167 588.5h1M1187 588.5h2M39 589.5h2M161 589.5h3M297 589.5h3M372 589.5h3M388 589.5h1M432 589.5h4M452 589.5h1M476 589.5h1M569 589.5h3M576 589.5h6M588 589.5h1M733 589.5h3M740 589.5h1M785 589.5h2M980 589.5h1M1025 589.5h1M1093 589.5h3M1185 589.5h2M41 590.5h1M57 590.5h1M369 590.5h3M375 590.5h2M477 590.5h1M572 590.5h4M582 590.5h1M981 590.5h2M1026 590.5h2M1091 590.5h2M56 591.5h1M357 591.5h1M368 591.5h1M377 591.5h1M583 591.5h1M983 591.5h2M988 591.5h3M1028 591.5h1M1082 591.5h9M1169 591.5h1M54 592.5h2M356 592.5h1M358 592.5h1M366 592.5h2M584 592.5h1M586 592.5h1M985 592.5h3M991 592.5h2M1029 592.5h3M1170 592.5h1M43 593.5h1M49 593.5h5M349 593.5h2M355 593.5h1M359 593.5h1M365 593.5h1M585 593.5h1M993 593.5h2M1001 593.5h1M1032 593.5h3M1171 593.5h1M48 594.5h1M351 594.5h2M354 594.5h1M360 594.5h1M363 594.5h2M995 594.5h2M999 594.5h2M1035 594.5h2M1172 594.5h1M46 595.5h2M353 595.5h1M361 595.5h2M997 595.5h2M1037 595.5h2M1173 595.5h3M45 596.5h1M1039 596.5h2M1176 596.5h6M481 597.5h3M1041 597.5h3M484 598.5h9M1044 598.5h3M1047 599.5h2M1049 600.5h1M1050 601.5h2M1052 602.5h1M1053 603.5h3M1056 604.5h8M1076 604.5h1M1064 605.5h7M1075 605.5h1M1071 606.5h2M1074 606.5h1M1073 607.5h1"/>
<rect x="5" y="678" width="1" height="1" fill="#c0c0c0"/>
<rect x="9" y="678" width="1" height="1" fill="#c0c0c0"/>
<rect x="13" y="678" width="1" height="1" fill="#c0c0c0"/>
<rect x="17" y="678" width="1" height="1" fill="#c0c0c0"/>
<rect x="21" y="678" width="1" height="1" fill="#c0c0c0"/>
<rect x="25" y="678" width="1" height="2" fill="#c0c0c0"/>
<rect x="29" y="678" width="1" height="2" fill="#c0c0c0"/>
<rect x="33" y="678" width="1" height="2" fill="#c0c0c0"/>
<rect x="37" y="678" width="1" height="3" fill="#c0c0c0"/>
<rect x="41" y="678" width="1" height="6" fill="#c0c0c0"/>
<rect x="45" y="678" width="1" height="9" fill="#c0c0c0"/>
<rect x="49" y="678" width="1" height="11" fill="#c0c0c0"/>
<rect x="53" y="678" width="1" height="13" fill="#c0c0c0"/>
<rect x="57" y="678" width="1" height="13" fill="#c0c0c0"/>
<rect x="61" y="678" width="1" height="12" fill="#c0c0c0"/>
<rect x="65" y="678" width="1" height="10" fill="#c0c0c0"/>
<rect x="69" y="678" width="1" height="10" fill="#c0c0c0"/>
<rect x="73" y="678" width="1" height="10" fill="#c0c0c0"/>
<rect x="77" y="678" width="1" height="9" fill="#c0c0c0"/>
<rect x="81" y="678" width="1" height="9" fill="#c0c0c0"/>
<rect x="85" y="678" width="1" height="9" fill="#c0c0c0"/>
<rect x="89" y="678" width="1" height="8" fill="#c0c0c0"/>
<rect x="93" y="678" width="1" height="7" fill="#c0c0c0"/>
<rect x="97" y="678" width="1" height="5" fill="#c0c0c0"/>
<rect x="101" y="678" width="1" height="4" fill="#c0c0c0"/>
<rect x="105" y="678" width="1" height="3" fill="#c0c0c0"/>
<rect x="109" y="678" width="1" height="3" fill="#c0c0c0"/>
<rect x="113" y="678" width="1" height="3" fill="#c0c0c0"/>
<rect x="117" y="678" width="1" height="4" fill="#c0c0c0"/>
<rect x="121" y="678" width="1" height="5" fill="#c0c0c0"/>
<rect x="125" y="678" width="1" height="7" fill="#c0c0c0"/>
<rect x="129" y="678" width="1" height="7" fill="#c0c0c0"/>
<rect x="133" y="678" width="1" height="8" fill="#c0c0c0"/>
<rect x="137" y="678" width="1" height="8" fill="#c0c0c0"/>
<rect x="141" y="678" width="1" height="8" fill="#c0c0c0"/>
<rect x="145" y="678" width="1" height="7" fill="#c0c0c0"/>
<rect x="149" y="678" width="1" height="5" fill="#c0c0c0"/>
<rect x="153" y="678" width="1" height="5" fill="#c0c0c0"/>
<rect x="157" y="678" width="1" height="5" fill="#c0c0c0"/>
<rect x="161" y="678" width="1" height="6" fill="#c0c0c0"/>
<rect x="165" y="678" width="1" height="7" fill="#c0c0c0"/>
<rect x="169" y="678" width="1" height="7" fill="#c0c0c0"/>
<rect x="173" y="678" width="1" height="7" fill="#c0c0c0"/>
<rect x="177" y="678" width="1" height="5" fill="#c0c0c0"/>
<rect x="181" y="678" width="1" height="3" fill="#c0c0c0"/>
<rect x="185" y="678" width="1" height="1" fill="#c0c0c0"/>
<rect x="189" y="675" width="1" height="4" fill="#c0c0c0"/>
<rect x="193" y="671" width="1" height="8" fill="#c0c0c0"/>
<rect x="197" y="667" width="1" height="12" fill="#c0c0c0"/>
<rect x="201" y="666" width="1" height="13" fill="#c0c0c0"/>
<rect x="205" y="665" width="1" height="14" fill="#c0c0c0"/>
<rect x="209" y="664" width="1" height="15" fill="#c0c0c0"/>
<rect x="213" y="665" width="1" height="14" fill="#c0c0c0"/>
<rect x="217" y="668" width="1" height="11" fill="#c0c0c0"/>
<rect x="221" y="671" width="1" height="8" fill="#c0c0c0"/>
<rect x="225" y="672" width="1" height="7" fill="#c0c0c0"/>
<rect x="229" y="675" width="1" height="4" fill="#c0c0c0"/>
<rect x="233" y="676" width="1" height="3" fill="#c0c0c0"/>
<rect x="237" y="674" width="1" height="5" fill="#c0c0c0"/>
<rect x="241" y="672" width="1" height="7" fill="#c0c0c0"/>
<rect x="245" y="668" width="1" height="11" fill="#c0c0c0"/>
<rect x="249" y="665" width="1" height="14" fill="#c0c0c0"/>
<rect x="253" y="663" width="1" height="16" fill="#c0c0c0"/>
<rect x="257" y="661" width="1" height="18" fill="#c0c0c0"/>
<rect x="261" y="661" width="1" height="18" fill="#c0c0c0"/>
<rect x="265" y="660" width="1" height="19" fill="#c0c0c0"/>
<rect x="269" y="660" width="1" height="19" fill="#c0c0c0"/>
<rect x="273" y="663" width="1" height="16" fill="#c0c0c0"/>
<rect x="277" y="665" width="1" height="14" fill="#c0c0c0"/>
<rect x="281" y="668" width="1" height="11" fill="#c0c0c0"/>
<rect x="285" y="670" width="1" height="9" fill="#c0c0c0"/>
<rect x="289" y="674" width="1" height="5" fill="#c0c0c0"/>
<rect x="293" y="677" width="1" height="2" fill="#c0c0c0"/>
<rect x="297" y="678" width="1" height="2" fill="#c0c0c0"/>
<rect x="301" y="678" width="1" height="4" fill="#c0c0c0"/>
<rect x="305" y="678" width="1" height="4" fill="#c0c0c0"/>
<rect x="309" y="678" width="1" height="4" fill="#c0c0c0"/>
<rect x="313" y="678" width="1" height="4" fill="#c0c0c0"/>
<rect x="317" y="678" width="1" height="4" fill="#c0c0c0"/>
<rect x="321" y="678" width="1" height="4" fill="#c0c0c0"/>
<rect x="325" y="678" width="1" height="5" fill="#c0c0c0"/>
<rect x="329" y="678" width="1" height="6" fill="#c0c0c0"/>
<rect x="333" y="678" width="1" height="6" fill="#c0c0c0"/>
<rect x="337" y="678" width="1" height="7" fill="#c0c0c0"/>
<rect x="341" y="678" width="1" height="7" fill="#c0c0c0"/>
<rect x="345" y="678" width="1" height="8" fill="#c0c0c0"/>
<rect x="349" y="678" width="1" height="10" fill="#c0c0c0"/>
<rect x="353" y="678" width="1" height="12" fill="#c0c0c0"/>
<rect x="357" y="678" width="1" height="13" fill="#c0c0c0"/>
<rect x="361" y="678" width="1" height="15" fill="#c0c0c0"/>
<rect x="365" y="678" width="1" height="16" fill="#c0c0c0"/>
<rect x="369" y="678" width="1" height="16" fill="#c0c0c0"/>
<rect x="373" y="678" width="1" height="16" fill="#c0c0c0"/>
<rect x="377" y="678" width="1" height="16" fill="#c0c0c0"/>
<rect x="381" y="678" width="1" height="19" fill="#c0c0c0"/>
<rect x="385" y="678" width="1" height="19" fill="#c0c0c0"/>
<rect x="389" y="678" width="1" height="19" fill="#c0c0c0"/>
<rect x="393" y="678" width="1" height="15" fill="#c0c0c0"/>
<rect x="397" y="678" width="1" height="12" fill="#c0c0c0"/>
<rect x="401" y="678" width="1" height="9" fill="#c0c0c0"/>
<rect x="405" y="678" width="1" height="7" fill="#c0c0c0"/>
<rect x="409" y="678" width="1" height="5" fill="#c0c0c0"/>
<rect x="413" y="678" width="1" height="3" fill="#c0c0c0"/>
<rect x="417" y="678" width="1" height="2" fill="#c0c0c0"/>
<rect x="421" y="678" width="1" height="2" fill="#c0c0c0"/>
<rect x="425" y="678" width="1" height="4" fill="#c0c0c0"/>
<rect x="429" y="678" width="1" height="6" fill="#c0c0c0"/>
<rect x="433" y="678" width="1" height="9" fill="#c0c0c0"/>
<rect x="437" y="678" width="1" height="10" fill="#c0c0c0"/>
<rect x="441" y="678" width="1" height="11" fill="#c0c0c0"/>
<rect x="445" y="678" width="1" height="12" fill="#c0c0c0"/>
<rect x="449" y="678" width="1" height="12" fill="#c0c0c0"/>
<rect x="453" y="678" width="1" height="13" fill="#c0c0c0"/>
<rect x="457" y="678" width="1" height="11" fill="#c0c0c0"/>
<rect x="461" y="678" width="1" height="10" fill="#c0c0c0"/>
<rect x="465" y="678" width="1" height="10" fill="#c0c0c0"/>
<rect x="469" y="678" width="1" height="10" fill="#c0c0c0"/>
<rect x="473" y="678" width="1" height="11" fill="#c0c0c0"/>
<rect x="477" y="678" width="1" height="12" fill="#c0c0c0"/>
<rect x="481" y="678" width="1" height="15" fill="#c0c0c0"/>
<rect x="485" y="678" width="1" height="18" fill="#c0c0c0"/>
<rect x="489" y="678" width="1" height="20" fill="#c0c0c0"/>
<rect x="493" y="678" width="1" height="22" fill="#c0c0c0"/>
<rect x="497" y="678" width="1" height="21" fill="#c0c0c0"/>
<rect x="501" y="678" width="1" height="19" fill="#c0c0c0"/>
<rect x="505" y="678" width="1" height="18" fill="#c0c0c0"/>
<rect x="509" y="678" width="1" height="17" fill="#c0c0c0"/>
<rect x="513" y="678" width="1" height="15" fill="#c0c0c0"/>
<rect x="517" y="678" width="1" height="14" fill="#c0c0c0"/>
<rect x="521" y="678" width="1" height="14" fill="#c0c0c0"/>
<rect x="525" y="678" width="1" height="12" fill="#c0c0c0"/>
<rect x="529" y="678" width="1" height="10" fill="#c0c0c0"/>
<rect x="533" y="678" width="1" height="8" fill="#c0c0c0"/>
<rect x="537" y="678" width="1" height="9" fill="#c0c0c0"/>
<rect x="541" y="678" width="1" height="8" fill="#c0c0c0"/>
<rect x="545" y="678" width="1" height="8" fill="#c0c0c0"/>
<rect x="549" y="678" width="1" height="7" fill="#c0c0c0"/>
<rect x="553" y="678" width="1" height="8" fill="#c0c0c0"/>
<rect x="557" y="678" width="1" height="8" fill="#c0c0c0"/>
<rect x="561" y="678" width="1" height="9" fill="#c0c0c0"/>
<rect x="565" y="678" width="1" height="9" fill="#c0c0c0"/>
<rect x="569" y="678" width="1" height="11" fill="#c0c0c0"/>
<rect x="573" y="678" width="1" height="13" fill="#c0c0c0"/>
<rect x="577" y="678" width="1" height="14" fill="#c0c0c0"/>
<rect x="581" y="678" width="1" height="15" fill="#c0c0c0"/>
<rect x="585" y="678" width="1" height="17" fill="#c0c0c0"/>
<rect x="589" y="678" width="1" height="17" fill="#c0c0c0"/>
<rect x="593" y="678" width="1" height="16" fill="#c0c0c0"/>
<rect x="597" y="678" width="1" height="14" fill="#c0c0c0"/>
<rect x="601" y="678" width="1" height="13" fill="#c0c0c0"/>
<rect x="605" y="678" width="1" height="12" fill="#c0c0c0"/>
<rect x="609" y="678" width="1" height="10" fill="#c0c0c0"/>
<rect x="613" y="678" width="1" height="10" fill="#c0c0c0"/>
<rect x="617" y="678" width="1" height="9" fill="#c0c0c0"/>
<rect x="621" y="678" width="1" height="7" fill="#c0c0c0"/>
<rect x="625" y="678" width="1" height="4" fill="#c0c0c0"/>
<rect x="629" y="678" width="1" height="2" fill="#c0c0c0"/>
<rect x="633" y="678" width="1" height="1" fill="#c0c0c0"/>
<rect x="637" y="678" width="1" height="1" fill="#c0c0c0"/>
<rect x="641" y="675" width="1" height="4" fill="#c0c0c0"/>
<rect x="645" y="672" width="1" height="7" fill="#c0c0c0"/>
<rect x="649" y="668" width="1" height="11" fill="#c0c0c0"/>
<rect x="653" y="665" width="1" height="14" fill="#c0c0c0"/>
<rect x="657" y="663" width="1" height="16" fill="#c0c0c0"/>
<rect x="661" y="662" width="1" height="17" fill="#c0c0c0"/>
<rect x="665" y="663" width="1" height="16" fill="#c0c0c0"/>
<rect x="669" y="664" width="1" height="15" fill="#c0c0c0"/>
<rect x="673" y="665" width="1" height="14" fill="#c0c0c0"/>
<rect x="677" y="667" width="1" height="12" fill="#c0c0c0"/>
<rect x="681" y="667" width="1" height="12" fill="#c0c0c0"/>
<rect x="685" y="667" width="1" height="12" fill="#c0c0c0"/>
<rect x="689" y="667" width="1" height="12" fill="#c0c0c0"/>
<rect x="693" y="666" width="1" height="13" fill="#c0c0c0"/>
<rect x="697" y="665" width="1" height="14" fill="#c0c0c0"/>
<rect x="701" y="664" width="1" height="15" fill="#c0c0c0"/>
<rect x="705" y="664" width="1" height="15" fill="#c0c0c0"/>
<rect x="709" y="667" width="1" height="12" fill="#c0c0c0"/>
<rect x="713" y="670" width="1" height="9" fill="#c0c0c0"/>
<rect x="717" y="673" width="1" height="6" fill="#c0c0c0"/>
<rect x="721" y="676" width="1" height="3" fill="#c0c0c0"/>
<rect x="725" y="678" width="1" height="1" fill="#c0c0c0"/>
<rect x="729" y="678" width="1" height="2" fill="#c0c0c0"/>
<rect x="733" y="678" width="1" height="4" fill="#c0c0c0"/>
<rect x="737" y="678" width="1" height="6" fill="#c0c0c0"/>
<rect x="741" y="678" width="1" height="7" fill="#c0c0c0"/>
<rect x="745" y="678" width="1" height="7" fill="#c0c0c0"/>
<rect x="749" y="678" width="1" height="6" fill="#c0c0c0"/>
<rect x="753" y="678" width="1" height="4" fill="#c0c0c0"/>
<rect x="757" y="678" width="1" height="3" fill="#c0c0c0"/>
<rect x="761" y="678" width="1" height="3" fill="#c0c0c0"/>
<rect x="765" y="678" width="1" height="2" fill="#c0c0c0"/>
<rect x="769" y="678" width="1" height="3" fill="#c0c0c0"/>
<rect x="773" y="678" width="1" height="4" fill="#c0c0c0"/>
<rect x="777" y="678" width="1" height="5" fill="#c0c0c0"/>
<rect x="781" y="678" width="1" height="6" fill="#c0c0c0"/>
<rect x="785" y="678" width="1" height="7" fill="#c0c0c0"/>
<rect x="789" y="678" width="1" height="8" fill="#c0c0c0"/>
<rect x="793" y="678" width="1" height="7" fill="#c0c0c0"/>
<rect x="797" y="678" width="1" height="7" fill="#c0c0c0"/>
<rect x="801" y="678" width="1" height="5" fill="#c0c0c0"/>
<rect x="805" y="678" width="1" height="3" fill="#c0c0c0"/>
<rect x="809" y="678" width="1" height="1" fill="#c0c0c0"/>
<rect x="813" y="677" width="1" height="2" fill="#c0c0c0"/>
<rect x="817" y="678" width="1" height="1" fill="#c0c0c0"/>
<rect x="821" y="678" width="1" height="1" fill="#c0c0c0"/>
<rect x="825" y="677" width="1" height="2" fill="#c0c0c0"/>
<rect x="829" y="676" width="1" height="3" fill="#c0c0c0"/>
<rect x="833" y="676" width="1" height="3" fill="#c0c0c0"/>
<rect x="837" y="674" width="1" height="5" fill="#c0c0c0"/>
<rect x="841" y="672" width="1" height="7" fill="#c0c0c0"/>
<rect x="845" y="671" width="1" height="8" fill="#c0c0c0"/>
<rect x="849" y="670" width="1" height="9" fill="#c0c0c0"/>
<rect x="853" y="669" width="1" height="10" fill="#c0c0c0"/>
<rect x="857" y="669" width="1" height="10" fill="#c0c0c0"/>
<rect x="861" y="669" width="1" height="10" fill="#c0c0c0"/>
<rect x="865" y="671" width="1" height="8" fill="#c0c0c0"/>
<rect x="869" y="673" width="1" height="6" fill="#c0c0c0"/>
<rect x="873" y="673" width="1" height="6" fill="#c0c0c0"/>
<rect x="877" y="674" width="1" height="5" fill="#c0c0c0"/>
<rect x="881" y="675" width="1" height="4" fill="#c0c0c0"/>
<rect x="885" y="675" width="1" height="4" fill="#c0c0c0"/>
<rect x="889" y="673" width="1" height="6" fill="#c0c0c0"/>
<rect x="893" y="670" width="1" height="9" fill="#c0c0c0"/>
<rect x="897" y="668" width="1" height="11" fill="#c0c0c0"/>
<rect x="901" y="666" width="1" height="13" fill="#c0c0c0"/>
<rect x="905" y="664" width="1" height="15" fill="#c0c0c0"/>
<rect x="909" y="664" width="1" height="15" fill="#c0c0c0"/>
<rect x="913" y="665" width="1" height="14" fill="#c0c0c0"/>
<rect x="917" y="666" width="1" height="13" fill="#c0c0c0"/>
<rect x="921" y="666" width="1" height="13" fill="#c0c0c0"/>
<rect x="925" y="668" width="1" height="11" fill="#c0c0c0"/>
<rect x="929" y="670" width="1" height="9" fill="#c0c0c0"/>
<rect x="933" y="672" width="1" height="7" fill="#c0c0c0"/>
<rect x="937" y="674" width="1" height="5" fill="#c0c0c0"/>
<rect x="941" y="675" width="1" height="4" fill="#c0c0c0"/>
<rect x="945" y="676" width="1" height="3" fill="#c0c0c0"/>
<rect x="949" y="677" width="1" height="2" fill="#c0c0c0"/>
<rect x="953" y="676" width="1" height="3" fill="#c0c0c0"/>
<rect x="957" y="676" width="1" height="3" fill="#c0c0c0"/>
<rect x="961" y="678" width="1" height="1" fill="#c0c0c0"/>
<rect x="965" y="678" width="1" height="2" fill="#c0c0c0"/>
<rect x="969" y="678" width="1" height="3" fill="#c0c0c0"/>
<rect x="973" y="678" width="1" height="4" fill="#c0c0c0"/>
<rect x="977" y="678" width="1" height="5" fill="#c0c0c0"/>
<rect x="981" y="678" width="1" height="7" fill="#c0c0c0"/>
<rect x="985" y="678" width="1" height="9" fill="#c0c0c0"/>
<rect x="989" y="678" width="1" height="10" fill="#c0c0c0"/>
<rect x="993" y="678" width="1" height="12" fill="#c0c0c0"/>
<rect x="997" y="678" width="1" height="13" fill="#c0c0c0"/>
<rect x="1001" y="678" width="1" height="14" fill="#c0c0c0"/>
<rect x="1005" y="678" width="1" height="14" fill="#c0c0c0"/>
<rect x="1009" y="678" width="1" height="11" fill="#c0c0c0"/>
<rect x="1013" y="678" width="1" height="9" fill="#c0c0c0"/>
<rect x="1017" y="678" width="1" height="9" fill="#c0c0c0"/>
<rect x="1021" y="678" width="1" height="9" fill="#c0c0c0"/>
<rect x="1025" y="678" width="1" height="10" fill="#c0c0c0"/>
<rect x="1029" y="678" width="1" height="12" fill="#c0c0c0"/>
<rect x="1033" y="678" width="1" height="14" fill="#c0c0c0"/>
<rect x="1037" y="678" width="1" height="16" fill="#c0c0c0"/>
<rect x="1041" y="678" width="1" height="18" fill="#c0c0c0"/>
<rect x="1045" y="678" width="1" height="19" fill="#c0c0c0"/>
<rect x="1049" y="678" width="1" height="21" fill="#c0c0c0"/>
<rect x="1053" y="678" width="1" height="24" fill="#c0c0c0"/>
<rect x="1057" y="678" width="1" height="26" fill="#c0c0c0"/>
<rect x="1061" y="678" width="1" height="28" fill="#c0c0c0"/>
<rect x="1065" y="678" width="1" height="29" fill="#c0c0c0"/>
<rect x="1069" y="678" width="1" height="30" fill="#c0c0c0"/>
<rect x="1073" y="678" width="1" height="31" fill="#c0c0c0"/>
<rect x="1077" y="678" width="1" height="31" fill="#c0c0c0"/>
<rect x="1081" y="678" width="1" height="30" fill="#c0c0c0"/>
<rect x="1085" y="678" width="1" height="28" fill="#c0c0c0"/>
<rect x="1089" y="678" width="1" height="26" fill="#c0c0c0"/>
<rect x="1093" y="678" width="1" height="24" fill="#c0c0c0"/>
<rect x="1097" y="678" width="1" height="22" fill="#c0c0c0"/>
<rect x="1101" y="678" width="1" height="16" fill="#c0c0c0"/>
<rect x="1105" y="678" width="1" height="11" fill="#c0c0c0"/>
<rect x="1109" y="678" width="1" height="6" fill="#c0c0c0"/>
<rect x="1113" y="676" width="1" height="3" fill="#c0c0c0"/>
<rect x="1117" y="668" width="1" height="11" fill="#c0c0c0"/>
<rect x="1121" y="664" width="1" height="15" fill="#c0c0c0"/>
<rect x="1125" y="658" width="1" height="21" fill="#c0c0c0"/>
<rect x="1129" y="650" width="1" height="29" fill="#c0c0c0"/>
<rect x="1133" y="644" width="1" height="35" fill="#c0c0c0"/>
<rect x="1137" y="636" width="1" height="43" fill="#c0c0c0"/>
<rect x="1141" y="633" width="1" height="46" fill="#c0c0c0"/>
<rect x="1145" y="633" width="1" height="46" fill="#c0c0c0"/>
<rect x="1149" y="641" width="1" height="38" fill="#c0c0c0"/>
<rect x="1153" y="648" width="1" height="31" fill="#c0c0c0"/>
<rect x="1157" y="653" width="1" height="26" fill="#c0c0c0"/>
<rect x="1161" y="656" width="1" height="23" fill="#c0c0c0"/>
<rect x="1165" y="664" width="1" height="15" fill="#c0c0c0"/>
<rect x="1169" y="675" width="1" height="4" fill="#c0c0c0"/>
<rect x="1173" y="678" width="1" height="11" fill="#c0c0c0"/>
<rect x="1177" y="678" width="1" height="22" fill="#c0c0c0"/>
<rect x="1181" y="678" width="1" height="31" fill="#c0c0c0"/>
<rect x="1185" y="678" width="1" height="35" fill="#c0c0c0"/>
<rect x="1189" y="678" width="1" height="35" fill="#c0c0c0"/>
<rect x="1193" y="678" width="1" height="34" fill="#c0c0c0"/>
<rect x="1197" y="678" width="1" height="26" fill="#c0c0c0"/>
<rect x="1201" y="678" width="1" height="19" fill="#c0c0c0"/>
<rect x="1205" y="678" width="1" height="11" fill="#c0c0c0"/>
<rect x="1209" y="678" width="1" height="7" fill="#c0c0c0"/>
<rect x="1213" y="678" width="1" height="5" fill="#c0c0c0"/>
<rect x="1217" y="678" width="1" height="6" fill="#c0c0c0"/>
<rect x="1221" y="678" width="1" height="9" fill="#c0c0c0"/>
<rect x="1225" y="678" width="1" height="14" fill="#c0c0c0"/>
<rect x="1229" y="678" width="1" height="17" fill="#c0c0c0"/>
<rect x="1233" y="678" width="1" height="19" fill="#c0c0c0"/>
<rect x="1237" y="678" width="1" height="18" fill="#c0c0c0"/>
<rect x="1241" y="678" width="1" height="18" fill="#c0c0c0"/>
<rect x="1245" y="678" width="1" height="15" fill="#c0c0c0"/>
<rect x="1249" y="678" width="1" height="12" fill="#c0c0c0"/>
<rect x="1253" y="678" width="1" height="10" fill="#c0c0c0"/>
<rect x="1257" y="678" width="1" height="9" fill="#c0c0c0"/>
<rect x="1261" y="678" width="1" height="6" fill="#c0c0c0"/>
<rect x="1265" y="678" width="1" height="6" fill="#c0c0c0"/>
<rect x="1269" y="678" width="1" height="7" fill="#c0c0c0"/>
<path fill="none" stroke="#ff0000" stroke-width="1" d="M1115.5 693v2M1140.5 657v2M1144.5 651v2M1172.5 652v2M1176.5 659v2M1179.5 665v2M1181.5 670v2M1184.5 676v2M1188.5 683v2M1191.5 688v2M1195.5 694v2M1156 643.5h2M1161 643.5h3M1155 644.5h1M1151 645.5h1M1149 646.5h2M1167 646.5h1M1168 647.5h1M1169 648.5h1M1145 650.5h1M1173 654.5h1M1141 656.5h1M1175 658.5h1M276 662.5h2M281 662.5h3M1138 662.5h1M275 663.5h1M287 663.5h1M1137 663.5h1M269 664.5h3M288 664.5h2M683 664.5h3M689 664.5h3M1136 664.5h1M1178 664.5h1M677 665.5h3M695 665.5h3M701 665.5h3M707 665.5h3M924 665.5h2M929 665.5h3M264 666.5h2M293 666.5h2M672 666.5h2M713 666.5h3M719 666.5h1M923 666.5h1M935 666.5h1M221 667.5h3M227 667.5h3M263 667.5h1M295 667.5h1M671 667.5h1M720 667.5h2M917 667.5h3M936 667.5h2M217 668.5h1M233 668.5h3M259 668.5h1M667 668.5h1M912 668.5h2M941 668.5h3M1134 668.5h1M215 669.5h2M239 669.5h1M257 669.5h2M299 669.5h2M665 669.5h2M725 669.5h3M911 669.5h1M1133 669.5h1M240 670.5h2M252 670.5h2M301 670.5h1M869 670.5h3M875 670.5h3M905 670.5h3M947 670.5h2M1132 670.5h1M211 671.5h1M245 671.5h3M251 671.5h1M661 671.5h1M731 671.5h2M863 671.5h3M881 671.5h3M887 671.5h1M900 671.5h2M949 671.5h1M209 672.5h2M659 672.5h2M733 672.5h1M857 672.5h3M888 672.5h2M893 672.5h3M899 672.5h1M953 672.5h3M1182 672.5h1M305 673.5h2M852 673.5h2M959 673.5h1M205 674.5h1M307 674.5h1M655 674.5h1M737 674.5h1M851 674.5h1M960 674.5h2M1130 674.5h1M203 675.5h2M653 675.5h2M738 675.5h2M845 675.5h3M1129 675.5h1M311 676.5h2M840 676.5h2M965 676.5h3M971 676.5h1M1128 676.5h1M199 677.5h1M313 677.5h1M839 677.5h1M972 677.5h2M197 678.5h2M649 678.5h1M743 678.5h2M833 678.5h3M977 678.5h3M1185 678.5h1M317 679.5h3M647 679.5h2M745 679.5h1M828 679.5h2M983 679.5h1M35 680.5h3M193 680.5h1M323 680.5h1M749 680.5h3M827 680.5h1M984 680.5h2M1126 680.5h1M24 681.5h2M29 681.5h3M41 681.5h3M191 681.5h2M324 681.5h2M643 681.5h1M755 681.5h1M821 681.5h3M1125 681.5h1M23 682.5h1M47 682.5h2M120 682.5h2M125 682.5h3M131 682.5h3M329 682.5h3M335 682.5h1M641 682.5h2M756 682.5h2M761 682.5h3M767 682.5h3M773 682.5h3M779 682.5h3M785 682.5h3M791 682.5h1M815 682.5h3M989 682.5h3M1124 682.5h1M1187 682.5h1M17 683.5h3M49 683.5h1M113 683.5h3M119 683.5h1M137 683.5h3M143 683.5h1M180 683.5h2M185 683.5h3M336 683.5h2M341 683.5h3M347 683.5h1M431 683.5h3M437 683.5h3M443 683.5h1M792 683.5h2M797 683.5h3M803 683.5h3M809 683.5h3M53 684.5h3M108 684.5h2M144 684.5h2M149 684.5h3M155 684.5h3M161 684.5h3M167 684.5h3M173 684.5h3M179 684.5h1M348 684.5h2M425 684.5h3M444 684.5h2M636 684.5h2M995 684.5h2M12 685.5h2M107 685.5h1M353 685.5h3M449 685.5h3M635 685.5h1M997 685.5h1M11 686.5h1M59 686.5h2M96 686.5h2M101 686.5h3M359 686.5h1M421 686.5h1M455 686.5h1M557 686.5h3M563 686.5h3M569 686.5h3M631 686.5h1M1001 686.5h3M1121 686.5h1M5 687.5h3M61 687.5h1M65 687.5h3M95 687.5h1M360 687.5h2M419 687.5h2M456 687.5h2M552 687.5h2M575 687.5h3M629 687.5h2M1007 687.5h1M1120 687.5h1M71 688.5h1M84 688.5h2M89 688.5h3M365 688.5h3M461 688.5h3M467 688.5h1M551 688.5h1M581 688.5h3M625 688.5h1M1008 688.5h2M1119 688.5h1M72 689.5h2M77 689.5h3M83 689.5h1M371 689.5h1M415 689.5h1M468 689.5h2M473 689.5h3M479 689.5h3M545 689.5h3M587 689.5h1M623 689.5h2M1013 689.5h3M1019 689.5h3M1025 689.5h3M1031 689.5h3M1037 689.5h3M1268 689.5h1M372 690.5h2M413 690.5h2M485 690.5h3M540 690.5h2M588 690.5h2M1043 690.5h1M1192 690.5h1M1230 690.5h3M1236 690.5h3M1242 690.5h2M1266 690.5h2M377 691.5h2M408 691.5h2M491 691.5h1M539 691.5h1M593 691.5h3M617 691.5h3M1044 691.5h2M1244 691.5h1M379 692.5h1M407 692.5h1M492 692.5h2M533 692.5h3M599 692.5h3M605 692.5h3M611 692.5h3M1049 692.5h2M1116 692.5h1M1225 692.5h2M1248 692.5h3M1254 692.5h3M1260 692.5h3M383 693.5h1M401 693.5h3M497 693.5h3M529 693.5h1M1051 693.5h1M1224 693.5h1M384 694.5h2M389 694.5h3M396 694.5h2M503 694.5h1M527 694.5h2M1055 694.5h1M395 695.5h1M504 695.5h2M1056 695.5h2M509 696.5h3M515 696.5h3M521 696.5h3M1196 696.5h1M1220 696.5h1M1061 697.5h2M1218 697.5h2M1063 698.5h1M1110 698.5h2M1109 699.5h1M1067 700.5h2M1200 700.5h1M1214 700.5h1M1069 701.5h1M1201 701.5h2M1212 701.5h2M1105 702.5h1M1208 702.5h1M1073 703.5h3M1103 703.5h2M1206 703.5h2M1079 705.5h2M1099 705.5h1M1081 706.5h1M1085 706.5h3M1092 706.5h2M1097 706.5h2M1091 707.5h1"/>
<polygon points="8,31 16,31 12,35.5" fill="#000" shape-rendering="geometricPrecision"/>
<text x="20.5" y="36" font-size="9.8" fill="#000" stroke="#000" stroke-width="0.18" textLength="63" lengthAdjust="spacingAndGlyphs">EURUSD,Daily</text>
<text x="90.5" y="36" font-size="9.8" fill="#000" stroke="#000" stroke-width="0.18" textLength="140" lengthAdjust="spacingAndGlyphs">1.09072 1.09381 1.08746 1.08850</text>
<text x="9.3" y="545" font-size="9.8" fill="#000" stroke="#000" stroke-width="0.18" textLength="67" lengthAdjust="spacingAndGlyphs">RSI(14) 46.8879</text>
<text x="9.3" y="639" font-size="9.8" fill="#000" stroke="#000" stroke-width="0.18" textLength="153" lengthAdjust="spacingAndGlyphs">MACD(12,26,9) -0.001461 -0.002462</text>
<rect x="5" y="719" width="1" height="3" fill="#000"/>
<text x="4.6" y="731" font-size="9.8" fill="#000" stroke="#000" stroke-width="0.18" textLength="50.4" lengthAdjust="spacingAndGlyphs">13 Apr 2019</text>
<rect x="69" y="719" width="1" height="3" fill="#000"/>
<text x="68.6" y="731" font-size="9.8" fill="#000" stroke="#000" stroke-width="0.18" textLength="49.6" lengthAdjust="spacingAndGlyphs">2 May 2019</text>
<rect x="133" y="719" width="1" height="3" fill="#000"/>
<text x="132.6" y="731" font-size="9.8" fill="#000" stroke="#000" stroke-width="0.18" textLength="54.8" lengthAdjust="spacingAndGlyphs">21 May 2019</text>
<rect x="197" y="719" width="1" height="3" fill="#000"/>
<text x="196.6" y="731" font-size="9.8" fill="#000" stroke="#000" stroke-width="0.18" textLength="44.5" lengthAdjust="spacingAndGlyphs">8 Jun 2019</text>
<rect x="261" y="719" width="1" height="3" fill="#000"/>
<text x="260.6" y="731" font-size="9.8" fill="#000" stroke="#000" stroke-width="0.18" textLength="49.7" lengthAdjust="spacingAndGlyphs">27 Jun 2019</text>
<rect x="325" y="719" width="1" height="3" fill="#000"/>
<text x="324.6" y="731" font-size="9.8" fill="#000" stroke="#000" stroke-width="0.18" textLength="46.6" lengthAdjust="spacingAndGlyphs">16 Jul 2019</text>
<rect x="389" y="719" width="1" height="3" fill="#000"/>
<text x="388.6" y="731" font-size="9.8" fill="#000" stroke="#000" stroke-width="0.18" textLength="47.4" lengthAdjust="spacingAndGlyphs">3 Aug 2019</text>
<rect x="453" y="719" width="1" height="3" fill="#000"/>
<text x="452.6" y="731" font-size="9.8" fill="#000" stroke="#000" stroke-width="0.18" textLength="52.5" lengthAdjust="spacingAndGlyphs">22 Aug 2019</text>
<rect x="517" y="719" width="1" height="3" fill="#000"/>
<text x="516.6" y="731" font-size="9.8" fill="#000" stroke="#000" stroke-width="0.18" textLength="51.2" lengthAdjust="spacingAndGlyphs">10 Sep 2019</text>
<rect x="581" y="719" width="1" height="3" fill="#000"/>
<text x="580.6" y="731" font-size="9.8" fill="#000" stroke="#000" stroke-width="0.18" textLength="51.7" lengthAdjust="spacingAndGlyphs">28 Sep 2019</text>
<rect x="645" y="719" width="1" height="3" fill="#000"/>
<text x="644.6" y="731" font-size="9.8" fill="#000" stroke="#000" stroke-width="0.18" textLength="49.9" lengthAdjust="spacingAndGlyphs">17 Oct 2019</text>
<rect x="709" y="719" width="1" height="3" fill="#000"/>
<text x="708.6" y="731" font-size="9.8" fill="#000" stroke="#000" stroke-width="0.18" textLength="48.6" lengthAdjust="spacingAndGlyphs">5 Nov 2019</text>
<rect x="773" y="719" width="1" height="3" fill="#000"/>
<text x="772.6" y="731" font-size="9.8" fill="#000" stroke="#000" stroke-width="0.18" textLength="53.7" lengthAdjust="spacingAndGlyphs">23 Nov 2019</text>
<rect x="837" y="719" width="1" height="3" fill="#000"/>
<text x="836.6" y="731" font-size="9.8" fill="#000" stroke="#000" stroke-width="0.18" textLength="50.7" lengthAdjust="spacingAndGlyphs">12 Dec 2019</text>
<rect x="901" y="719" width="1" height="3" fill="#000"/>
<text x="900.6" y="731" font-size="9.8" fill="#000" stroke="#000" stroke-width="0.18" textLength="51.7" lengthAdjust="spacingAndGlyphs">31 Dec 2019</text>
<rect x="965" y="719" width="1" height="3" fill="#000"/>
<text x="964.6" y="731" font-size="9.8" fill="#000" stroke="#000" stroke-width="0.18" textLength="49.1" lengthAdjust="spacingAndGlyphs">18 Jan 2020</text>
<rect x="1029" y="719" width="1" height="3" fill="#000"/>
<text x="1028.6" y="731" font-size="9.8" fill="#000" stroke="#000" stroke-width="0.18" textLength="46.6" lengthAdjust="spacingAndGlyphs">6 Feb 2020</text>
<rect x="1093" y="719" width="1" height="3" fill="#000"/>
<text x="1092.6" y="731" font-size="9.8" fill="#000" stroke="#000" stroke-width="0.18" textLength="51.7" lengthAdjust="spacingAndGlyphs">25 Feb 2020</text>
<rect x="1157" y="719" width="1" height="3" fill="#000"/>
<text x="1156.6" y="731" font-size="9.8" fill="#000" stroke="#000" stroke-width="0.18" textLength="52.5" lengthAdjust="spacingAndGlyphs">14 Mar 2020</text>
<rect x="1221" y="719" width="1" height="3" fill="#000"/>
<text x="1220.6" y="731" font-size="9.8" fill="#000" stroke="#000" stroke-width="0.18" textLength="45.4" lengthAdjust="spacingAndGlyphs">2 Apr 2020</text>
<rect x="0" y="739" width="1641" height="1" fill="#e6e6e6"/>
<rect x="0" y="740" width="1641" height="1" fill="#fff"/>
<rect x="0" y="741" width="1641" height="1" fill="#000"/>
<rect x="0" y="742" width="1641" height="1" fill="#f8f8f8"/>
<rect x="0" y="743" width="1641" height="18" fill="#f0f0f0"/>
<rect x="0" y="761" width="1641" height="1" fill="#fff"/>
<rect x="0" y="762" width="1641" height="2" fill="#f0f0f0"/>
<rect x="0" y="742" width="2" height="18" fill="#a0a0a0"/>
<rect x="7" y="740" width="102" height="19" fill="#fff"/>
<rect x="6" y="741" width="1" height="19" fill="#000"/>
<rect x="109" y="741" width="1" height="19" fill="#000"/>
<rect x="6" y="759" width="104" height="1" fill="#000"/>
<text x="18.4" y="755.7" font-size="11.8" fill="#000" textLength="79.5" lengthAdjust="spacingAndGlyphs">EURUSD,Daily</text>
<text x="120.5" y="755.7" font-size="11.8" fill="#646464" textLength="78.8" lengthAdjust="spacingAndGlyphs">USDCHF,Daily</text>
<rect x="210" y="744" width="1" height="14" fill="#5a5a5a"/>
<text x="221.6" y="755.7" font-size="11.8" fill="#646464" textLength="81.4" lengthAdjust="spacingAndGlyphs">AUDUSD,Daily</text>
<rect x="314" y="744" width="1" height="14" fill="#5a5a5a"/>
<text x="325.2" y="755.7" font-size="11.8" fill="#646464" textLength="80.6" lengthAdjust="spacingAndGlyphs">USDCAD,Daily</text>
<rect x="418" y="744" width="1" height="14" fill="#5a5a5a"/>
<text x="428.4" y="755.7" font-size="11.8" fill="#646464" textLength="82.4" lengthAdjust="spacingAndGlyphs">USDCNH,Daily</text>
<rect x="522" y="744" width="1" height="14" fill="#5a5a5a"/>
<text x="534" y="755.7" font-size="11.8" fill="#646464" textLength="80.1" lengthAdjust="spacingAndGlyphs">EURUSD,Daily</text>
<rect x="626" y="744" width="1" height="14" fill="#5a5a5a"/>
<text x="636.5" y="755.7" font-size="11.8" fill="#646464" textLength="70.4" lengthAdjust="spacingAndGlyphs">GBPUSD,M5</text>
<rect x="718" y="744" width="1" height="14" fill="#5a5a5a"/>
<text x="729.9" y="755.7" font-size="11.8" fill="#646464" textLength="71.7" lengthAdjust="spacingAndGlyphs">XAUUSD,M5</text>
<rect x="814" y="744" width="1" height="14" fill="#5a5a5a"/>
<text x="825" y="755.7" font-size="11.8" fill="#646464" textLength="49.4" lengthAdjust="spacingAndGlyphs">HK50,H1</text>
<rect x="886" y="744" width="1" height="14" fill="#5a5a5a"/>
<text x="897.4" y="755.7" font-size="11.8" fill="#646464" textLength="56.3" lengthAdjust="spacingAndGlyphs">UK100,H1</text>
<rect x="966" y="744" width="1" height="14" fill="#5a5a5a"/>
<text x="977.3" y="755.7" font-size="11.8" fill="#646464" textLength="56.3" lengthAdjust="spacingAndGlyphs">UK100,H1</text>
<rect x="1046" y="744" width="1" height="14" fill="#5a5a5a"/>
<text x="1057.1" y="755.7" font-size="11.8" fill="#646464" textLength="56.3" lengthAdjust="spacingAndGlyphs">GER30,H1</text>
<rect x="1126" y="744" width="1" height="14" fill="#5a5a5a"/>
<text x="1136.5" y="755.7" font-size="11.8" fill="#646464" textLength="54" lengthAdjust="spacingAndGlyphs">FRA40,H1</text>
<rect x="1202" y="744" width="1" height="14" fill="#5a5a5a"/>
<text x="1212.2" y="755.7" font-size="11.8" fill="#646464" textLength="49.9" lengthAdjust="spacingAndGlyphs">USOil,H1</text>
<rect x="1274" y="744" width="1" height="14" fill="#5a5a5a"/>
<text x="1284.2" y="755.7" font-size="11.8" fill="#646464" textLength="62.9" lengthAdjust="spacingAndGlyphs">USDJPY,H1</text>
<rect x="1358" y="744" width="1" height="14" fill="#5a5a5a"/>
<polygon points="1616.5,747 1616.5,753 1613,750" fill="#a0a0a0" shape-rendering="geometricPrecision"/>
<polygon points="1632,747 1632,753 1635.5,750" fill="#a0a0a0" shape-rendering="geometricPrecision"/>
</svg>
</body></html>
